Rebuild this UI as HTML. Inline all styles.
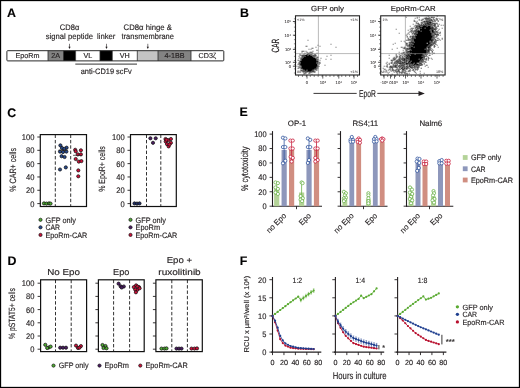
<!DOCTYPE html>
<html><head><meta charset="utf-8"><style>
html,body{margin:0;padding:0;background:#fff;}
svg{display:block;will-change:transform;}
text{font-family:"Liberation Sans", sans-serif;text-rendering:geometricPrecision;stroke:#231f20;stroke-width:0.15px;}
</style></head><body>
<svg width="520" height="388" viewBox="0 0 520 388" font-family='"Liberation Sans", sans-serif' fill="#231f20">
<rect x="0" y="0" width="520" height="388" fill="#fff"/>
<text x="7" y="17" font-size="12.4" font-weight="bold" fill="#000">A</text>
<text x="240" y="16.8" font-size="12.4" font-weight="bold" fill="#000">B</text>
<text x="7.2" y="116.7" font-size="12.4" font-weight="bold" fill="#000">C</text>
<text x="7.6" y="264.6" font-size="12.4" font-weight="bold" fill="#000">D</text>
<text x="239.6" y="116.2" font-size="12.4" font-weight="bold" fill="#000">E</text>
<text x="239.8" y="264.7" font-size="12.4" font-weight="bold" fill="#000">F</text>
<rect x="6.9" y="50.7" width="41.1" height="10.2" fill="#ffffff"/>
<text x="27.45" y="58.1" font-size="7.2" text-anchor="middle">EpoRm</text>
<rect x="48" y="50.7" width="15.5" height="10.2" fill="#838383"/>
<text x="55.75" y="58.1" font-size="7.2" text-anchor="middle">2A</text>
<rect x="63.5" y="50.7" width="12.1" height="10.2" fill="#000000"/>
<rect x="75.6" y="50.7" width="24.4" height="10.2" fill="#ffffff"/>
<text x="87.8" y="58.1" font-size="7.2" text-anchor="middle">VL</text>
<rect x="100" y="50.7" width="12.3" height="10.2" fill="#000000"/>
<rect x="112.3" y="50.7" width="25" height="10.2" fill="#ffffff"/>
<text x="124.8" y="58.1" font-size="7.2" text-anchor="middle">VH</text>
<rect x="137.3" y="50.7" width="20.7" height="10.2" fill="#c4c4c4"/>
<rect x="158" y="50.7" width="33" height="10.2" fill="#838383"/>
<text x="174.5" y="58.1" font-size="7.2" text-anchor="middle">4-1BB</text>
<rect x="191" y="50.7" width="32.8" height="10.2" fill="#ffffff"/>
<text x="207.4" y="58.1" font-size="7.2" text-anchor="middle">CD3ζ</text>
<rect x="6.9" y="50.7" width="216.9" height="10.2" rx="0.8" fill="none" stroke="#2a2a2a" stroke-width="1"/>
<line x1="48" y1="50.7" x2="48" y2="60.9" stroke="#2a2a2a" stroke-width="0.8"/>
<line x1="63.5" y1="50.7" x2="63.5" y2="60.9" stroke="#2a2a2a" stroke-width="0.8"/>
<line x1="75.6" y1="50.7" x2="75.6" y2="60.9" stroke="#2a2a2a" stroke-width="0.8"/>
<line x1="100" y1="50.7" x2="100" y2="60.9" stroke="#2a2a2a" stroke-width="0.8"/>
<line x1="112.3" y1="50.7" x2="112.3" y2="60.9" stroke="#2a2a2a" stroke-width="0.8"/>
<line x1="137.3" y1="50.7" x2="137.3" y2="60.9" stroke="#2a2a2a" stroke-width="0.8"/>
<line x1="158" y1="50.7" x2="158" y2="60.9" stroke="#2a2a2a" stroke-width="0.8"/>
<line x1="191" y1="50.7" x2="191" y2="60.9" stroke="#2a2a2a" stroke-width="0.8"/>
<line x1="75.3" y1="64.1" x2="137" y2="64.1" stroke="#333" stroke-width="1"/>
<text x="106.2" y="73.5" font-size="7.9" text-anchor="middle" textLength="51" lengthAdjust="spacingAndGlyphs">anti-CD19 scFv</text>
<text x="69.6" y="29.9" font-size="8" text-anchor="middle" textLength="19.5" lengthAdjust="spacingAndGlyphs">CD8α</text>
<text x="69.4" y="38.6" font-size="8" text-anchor="middle" textLength="47.2" lengthAdjust="spacingAndGlyphs">signal peptide</text>
<text x="106.2" y="38.6" font-size="8" text-anchor="middle" textLength="18.4" lengthAdjust="spacingAndGlyphs">linker</text>
<text x="147.7" y="29.9" font-size="8" text-anchor="middle" textLength="48.3" lengthAdjust="spacingAndGlyphs">CD8α hinge &amp;</text>
<text x="147.7" y="38.6" font-size="8" text-anchor="middle" textLength="52.3" lengthAdjust="spacingAndGlyphs">transmembrane</text>
<line x1="69.5" y1="43.8" x2="69.5" y2="47.5" stroke="#231f20" stroke-width="0.6"/>
<path d="M68.4 46.8 L70.6 46.8 L69.5 49 Z" fill="#231f20"/>
<line x1="106.5" y1="43.8" x2="106.5" y2="47.5" stroke="#231f20" stroke-width="0.6"/>
<path d="M105.4 46.8 L107.6 46.8 L106.5 49 Z" fill="#231f20"/>
<line x1="147.8" y1="43.8" x2="147.8" y2="47.5" stroke="#231f20" stroke-width="0.6"/>
<path d="M146.7 46.8 L148.9 46.8 L147.8 49 Z" fill="#231f20"/>
<path fill="rgb(106,106,106)" d="M307.5 39.8h1v1h-1zM330.5 43.8h1v1h-1zM317.5 44.8h1v1h-1zM305.5 45.8h2v1h-2zM319.5 45.8h1v1h-1zM315.5 46.8h1v1h-1zM335.5 46.8h1v1h-1zM311.5 47.8h2v1h-2zM308.5 48.8h1v1h-1zM310.5 48.8h1v1h-1zM301.5 50.8h3v1h-3zM305.5 50.8h1v1h-1zM312.5 50.8h1v1h-1zM301.5 51.8h1v1h-1zM309.5 51.8h1v1h-1zM311.5 51.8h1v1h-1zM309.5 52.8h1v1h-1zM312.5 52.8h1v1h-1zM316.5 52.8h1v1h-1zM299.5 53.8h1v1h-1zM303.5 53.8h1v1h-1zM308.5 53.8h4v1h-4zM299.5 54.8h2v1h-2zM311.5 54.8h1v1h-1zM330.5 54.8h1v1h-1zM298.5 55.8h1v1h-1zM312.5 55.8h1v1h-1zM314.5 55.8h2v1h-2zM326.5 55.8h1v1h-1zM299.5 56.8h1v1h-1zM302.5 56.8h1v1h-1zM314.5 56.8h1v1h-1zM298.5 57.8h1v1h-1zM316.5 57.8h1v1h-1zM320.5 57.8h1v1h-1zM316.5 58.8h1v1h-1zM325.5 58.8h1v1h-1zM330.5 58.8h1v1h-1zM297.5 59.8h2v1h-2zM316.5 59.8h2v1h-2zM319.5 59.8h1v1h-1zM295.5 61.8h1v1h-1zM298.5 61.8h2v1h-2zM318.5 61.8h2v1h-2zM318.5 62.8h1v1h-1zM297.5 63.8h2v1h-2zM317.5 64.8h1v1h-1zM324.5 64.8h1v1h-1zM296.5 65.8h1v1h-1zM298.5 66.8h2v1h-2zM317.5 66.8h1v1h-1zM297.5 67.8h2v1h-2zM317.5 67.8h1v1h-1zM300.5 68.8h1v1h-1zM316.5 68.8h1v1h-1zM303.5 69.8h1v1h-1zM313.5 69.8h1v1h-1zM315.5 69.8h2v1h-2zM314.5 70.8h1v1h-1zM304.5 71.8h2v1h-2zM308.5 71.8h1v1h-1zM310.5 71.8h1v1h-1zM314.5 71.8h1v1h-1zM303.5 72.8h3v1h-3zM309.5 72.8h1v1h-1zM303.5 73.8h1v1h-1zM311.5 73.8h1v1h-1z"/>
<path fill="rgb(42,42,42)" d="M316.5 49.8h1v1h-1zM306.5 51.8h1v1h-1zM304.5 52.8h1v1h-1zM307.5 52.8h2v1h-2zM311.5 52.8h1v1h-1zM314.5 53.8h1v1h-1zM301.5 54.8h1v1h-1zM303.5 54.8h1v1h-1zM307.5 54.8h1v1h-1zM312.5 54.8h1v1h-1zM314.5 54.8h2v1h-2zM301.5 55.8h2v1h-2zM304.5 55.8h1v1h-1zM301.5 57.8h1v1h-1zM315.5 57.8h1v1h-1zM316.5 61.8h1v1h-1zM298.5 62.8h1v1h-1zM316.5 62.8h2v1h-2zM319.5 62.8h1v1h-1zM298.5 65.8h1v1h-1zM300.5 65.8h1v1h-1zM317.5 65.8h2v1h-2zM316.5 66.8h1v1h-1zM316.5 67.8h1v1h-1zM314.5 68.8h2v1h-2zM300.5 69.8h2v1h-2zM302.5 70.8h1v1h-1zM305.5 70.8h1v1h-1zM306.5 71.8h1v1h-1zM311.5 71.8h1v1h-1zM313.5 71.8h1v1h-1zM308.5 72.8h1v1h-1z"/>
<path fill="rgb(21,21,21)" d="M310.5 51.8h1v1h-1zM306.5 53.8h2v1h-2zM310.5 54.8h1v1h-1zM313.5 54.8h1v1h-1zM313.5 55.8h1v1h-1zM313.5 56.8h1v1h-1zM316.5 56.8h1v1h-1zM300.5 57.8h1v1h-1zM300.5 58.8h1v1h-1zM317.5 58.8h1v1h-1zM300.5 59.8h1v1h-1zM299.5 62.8h1v1h-1zM318.5 63.8h1v1h-1zM299.5 64.8h1v1h-1zM300.5 66.8h1v1h-1zM302.5 69.8h1v1h-1zM306.5 69.8h1v1h-1zM312.5 69.8h1v1h-1zM303.5 70.8h1v1h-1zM311.5 70.8h3v1h-3zM309.5 71.8h1v1h-1z"/>
<path fill="rgb(0,0,0)" d="M302.5 54.8h1v1h-1zM304.5 54.8h3v1h-3zM308.5 54.8h2v1h-2zM303.5 55.8h1v1h-1zM305.5 55.8h7v1h-7zM301.5 56.8h1v1h-1zM303.5 56.8h10v1h-10zM317.5 56.8h1v1h-1zM302.5 57.8h13v1h-13zM301.5 58.8h15v1h-15zM301.5 59.8h15v1h-15zM299.5 60.8h19v1h-19zM300.5 61.8h16v1h-16zM317.5 61.8h1v1h-1zM300.5 62.8h16v1h-16zM299.5 63.8h18v1h-18zM300.5 64.8h17v1h-17zM301.5 65.8h16v1h-16zM301.5 66.8h15v1h-15zM300.5 67.8h16v1h-16zM302.5 68.8h12v1h-12zM304.5 69.8h2v1h-2zM307.5 69.8h5v1h-5zM304.5 70.8h1v1h-1zM306.5 70.8h5v1h-5z"/>
<path fill="rgb(106,106,106)" d="M427.7 15.8h1v1h-1zM436.7 15.8h1v1h-1zM405.7 16.8h1v1h-1zM416.7 16.8h1v1h-1zM418.7 16.8h1v1h-1zM425.7 16.8h1v1h-1zM428.7 16.8h1v1h-1zM432.7 16.8h1v1h-1zM414.7 17.8h1v1h-1zM416.7 17.8h1v1h-1zM423.7 17.8h1v1h-1zM429.7 17.8h1v1h-1zM432.7 17.8h1v1h-1zM435.7 17.8h1v1h-1zM418.7 18.8h1v1h-1zM421.7 18.8h1v1h-1zM424.7 18.8h6v1h-6zM432.7 18.8h2v1h-2zM435.7 18.8h2v1h-2zM413.7 19.8h1v1h-1zM418.7 19.8h1v1h-1zM421.7 19.8h1v1h-1zM425.7 19.8h3v1h-3zM433.7 19.8h2v1h-2zM436.7 19.8h1v1h-1zM414.7 20.8h1v1h-1zM416.7 20.8h1v1h-1zM422.7 20.8h1v1h-1zM432.7 20.8h2v1h-2zM415.7 21.8h1v1h-1zM420.7 21.8h3v1h-3zM424.7 21.8h2v1h-2zM431.7 21.8h1v1h-1zM415.7 22.8h2v1h-2zM420.7 22.8h1v1h-1zM423.7 22.8h1v1h-1zM430.7 22.8h1v1h-1zM434.7 22.8h1v1h-1zM436.7 22.8h1v1h-1zM412.7 23.8h1v1h-1zM417.7 23.8h1v1h-1zM423.7 23.8h1v1h-1zM436.7 23.8h1v1h-1zM438.7 23.8h1v1h-1zM414.7 24.8h4v1h-4zM431.7 24.8h1v1h-1zM437.7 24.8h1v1h-1zM440.7 24.8h1v1h-1zM442.7 24.8h1v1h-1zM409.7 25.8h1v1h-1zM413.7 25.8h1v1h-1zM420.7 25.8h1v1h-1zM430.7 25.8h1v1h-1zM436.7 25.8h1v1h-1zM414.7 26.8h1v1h-1zM417.7 26.8h1v1h-1zM434.7 26.8h1v1h-1zM410.7 27.8h2v1h-2zM433.7 27.8h1v1h-1zM435.7 27.8h2v1h-2zM441.7 27.8h1v1h-1zM395.7 28.8h1v1h-1zM409.7 28.8h1v1h-1zM411.7 28.8h1v1h-1zM417.7 28.8h1v1h-1zM438.7 28.8h1v1h-1zM407.7 29.8h1v1h-1zM410.7 29.8h2v1h-2zM413.7 29.8h1v1h-1zM416.7 29.8h1v1h-1zM418.7 29.8h1v1h-1zM437.7 29.8h1v1h-1zM409.7 30.8h4v1h-4zM433.7 30.8h2v1h-2zM436.7 30.8h1v1h-1zM408.7 31.8h1v1h-1zM430.7 31.8h1v1h-1zM434.7 31.8h1v1h-1zM436.7 31.8h2v1h-2zM398.7 32.8h1v1h-1zM407.7 32.8h1v1h-1zM411.7 32.8h2v1h-2zM432.7 32.8h1v1h-1zM436.7 32.8h1v1h-1zM438.7 32.8h2v1h-2zM406.7 33.8h1v1h-1zM408.7 33.8h1v1h-1zM411.7 33.8h1v1h-1zM432.7 33.8h1v1h-1zM405.7 34.8h1v1h-1zM412.7 34.8h1v1h-1zM435.7 34.8h2v1h-2zM439.7 34.8h1v1h-1zM410.7 35.8h1v1h-1zM433.7 35.8h1v1h-1zM436.7 35.8h1v1h-1zM406.7 36.8h1v1h-1zM413.7 36.8h1v1h-1zM433.7 36.8h3v1h-3zM410.7 37.8h1v1h-1zM432.7 37.8h1v1h-1zM436.7 37.8h2v1h-2zM441.7 37.8h1v1h-1zM407.7 38.8h4v1h-4zM433.7 38.8h1v1h-1zM438.7 38.8h1v1h-1zM441.7 38.8h1v1h-1zM405.7 39.8h2v1h-2zM408.7 39.8h3v1h-3zM435.7 39.8h1v1h-1zM437.7 39.8h1v1h-1zM439.7 39.8h1v1h-1zM400.7 40.8h1v1h-1zM403.7 40.8h1v1h-1zM412.7 40.8h1v1h-1zM429.7 40.8h1v1h-1zM434.7 40.8h2v1h-2zM404.7 41.8h1v1h-1zM432.7 41.8h1v1h-1zM434.7 41.8h2v1h-2zM394.7 42.8h1v1h-1zM408.7 42.8h1v1h-1zM410.7 42.8h1v1h-1zM430.7 42.8h2v1h-2zM392.7 43.8h1v1h-1zM405.7 43.8h2v1h-2zM434.7 43.8h2v1h-2zM405.7 44.8h1v1h-1zM407.7 44.8h1v1h-1zM436.7 44.8h1v1h-1zM406.7 45.8h2v1h-2zM430.7 45.8h1v1h-1zM434.7 45.8h1v1h-1zM400.7 46.8h2v1h-2zM403.7 46.8h2v1h-2zM408.7 46.8h1v1h-1zM437.7 46.8h1v1h-1zM396.7 47.8h1v1h-1zM402.7 47.8h1v1h-1zM405.7 47.8h1v1h-1zM407.7 47.8h1v1h-1zM429.7 47.8h2v1h-2zM391.7 48.8h1v1h-1zM404.7 48.8h2v1h-2zM409.7 48.8h1v1h-1zM426.7 48.8h1v1h-1zM431.7 48.8h1v1h-1zM402.7 49.8h1v1h-1zM406.7 49.8h1v1h-1zM429.7 49.8h1v1h-1zM432.7 49.8h1v1h-1zM405.7 50.8h1v1h-1zM398.7 51.8h1v1h-1zM402.7 51.8h1v1h-1zM408.7 51.8h1v1h-1zM428.7 51.8h1v1h-1zM400.7 52.8h2v1h-2zM403.7 52.8h1v1h-1zM405.7 52.8h1v1h-1zM426.7 52.8h4v1h-4zM432.7 52.8h1v1h-1zM395.7 53.8h1v1h-1zM398.7 53.8h1v1h-1zM401.7 53.8h1v1h-1zM405.7 53.8h1v1h-1zM423.7 53.8h1v1h-1zM425.7 53.8h1v1h-1zM431.7 53.8h1v1h-1zM388.7 54.8h1v1h-1zM395.7 54.8h1v1h-1zM399.7 54.8h2v1h-2zM402.7 54.8h1v1h-1zM409.7 54.8h1v1h-1zM429.7 54.8h1v1h-1zM395.7 55.8h1v1h-1zM398.7 55.8h2v1h-2zM404.7 55.8h1v1h-1zM425.7 55.8h2v1h-2zM393.7 56.8h1v1h-1zM395.7 56.8h2v1h-2zM398.7 56.8h1v1h-1zM401.7 56.8h2v1h-2zM404.7 56.8h1v1h-1zM388.7 57.8h1v1h-1zM392.7 57.8h4v1h-4zM398.7 57.8h3v1h-3zM422.7 57.8h1v1h-1zM427.7 57.8h2v1h-2zM430.7 57.8h1v1h-1zM392.7 58.8h1v1h-1zM397.7 58.8h1v1h-1zM399.7 58.8h1v1h-1zM406.7 58.8h1v1h-1zM423.7 58.8h2v1h-2zM427.7 58.8h1v1h-1zM431.7 58.8h1v1h-1zM392.7 59.8h2v1h-2zM395.7 59.8h1v1h-1zM397.7 59.8h1v1h-1zM407.7 59.8h1v1h-1zM425.7 59.8h1v1h-1zM427.7 59.8h1v1h-1zM391.7 60.8h1v1h-1zM394.7 60.8h1v1h-1zM400.7 60.8h2v1h-2zM406.7 60.8h2v1h-2zM422.7 60.8h3v1h-3zM386.7 61.8h1v1h-1zM390.7 61.8h2v1h-2zM393.7 61.8h3v1h-3zM398.7 61.8h1v1h-1zM400.7 61.8h1v1h-1zM419.7 61.8h2v1h-2zM422.7 61.8h1v1h-1zM424.7 61.8h2v1h-2zM385.7 62.8h1v1h-1zM388.7 62.8h1v1h-1zM391.7 62.8h1v1h-1zM394.7 62.8h1v1h-1zM396.7 62.8h1v1h-1zM403.7 62.8h1v1h-1zM416.7 62.8h1v1h-1zM423.7 62.8h1v1h-1zM386.7 63.8h1v1h-1zM394.7 63.8h1v1h-1zM399.7 63.8h2v1h-2zM402.7 63.8h1v1h-1zM407.7 63.8h1v1h-1zM410.7 63.8h1v1h-1zM412.7 63.8h1v1h-1zM419.7 63.8h1v1h-1zM423.7 63.8h1v1h-1zM386.7 64.8h1v1h-1zM392.7 64.8h2v1h-2zM399.7 64.8h1v1h-1zM414.7 64.8h1v1h-1zM421.7 64.8h1v1h-1zM425.7 64.8h2v1h-2zM383.7 65.8h1v1h-1zM385.7 65.8h1v1h-1zM391.7 65.8h2v1h-2zM398.7 65.8h1v1h-1zM401.7 65.8h1v1h-1zM407.7 65.8h1v1h-1zM410.7 65.8h1v1h-1zM415.7 65.8h2v1h-2zM418.7 65.8h1v1h-1zM424.7 65.8h1v1h-1zM386.7 66.8h1v1h-1zM388.7 66.8h1v1h-1zM392.7 66.8h2v1h-2zM402.7 66.8h1v1h-1zM404.7 66.8h2v1h-2zM414.7 66.8h2v1h-2zM418.7 66.8h1v1h-1zM427.7 66.8h1v1h-1zM382.7 67.8h1v1h-1zM389.7 67.8h1v1h-1zM396.7 67.8h1v1h-1zM398.7 67.8h1v1h-1zM402.7 67.8h1v1h-1zM407.7 67.8h1v1h-1zM410.7 67.8h1v1h-1zM413.7 67.8h2v1h-2zM417.7 67.8h1v1h-1zM383.7 68.8h2v1h-2zM388.7 68.8h2v1h-2zM392.7 68.8h1v1h-1zM395.7 68.8h4v1h-4zM406.7 68.8h1v1h-1zM409.7 68.8h1v1h-1zM415.7 68.8h3v1h-3zM385.7 69.8h1v1h-1zM387.7 69.8h1v1h-1zM389.7 69.8h1v1h-1zM392.7 69.8h2v1h-2zM395.7 69.8h1v1h-1zM398.7 69.8h1v1h-1zM401.7 69.8h1v1h-1zM403.7 69.8h2v1h-2zM409.7 69.8h1v1h-1zM411.7 69.8h1v1h-1zM414.7 69.8h1v1h-1zM416.7 69.8h1v1h-1zM380.7 70.8h1v1h-1zM390.7 70.8h1v1h-1zM392.7 70.8h1v1h-1zM394.7 70.8h2v1h-2zM402.7 70.8h1v1h-1zM404.7 70.8h2v1h-2zM408.7 70.8h2v1h-2zM419.7 70.8h1v1h-1zM381.7 71.8h1v1h-1zM388.7 71.8h1v1h-1zM393.7 71.8h1v1h-1zM395.7 71.8h2v1h-2zM399.7 71.8h4v1h-4zM404.7 71.8h1v1h-1zM387.7 72.8h1v1h-1zM396.7 72.8h1v1h-1zM398.7 72.8h1v1h-1zM400.7 72.8h2v1h-2zM403.7 72.8h4v1h-4zM408.7 72.8h1v1h-1zM415.7 72.8h1v1h-1zM419.7 72.8h1v1h-1zM423.7 72.8h1v1h-1zM391.7 73.8h1v1h-1zM396.7 73.8h1v1h-1zM406.7 73.8h1v1h-1z"/>
<path fill="rgb(42,42,42)" d="M430.7 16.8h2v1h-2zM433.7 16.8h1v1h-1zM424.7 17.8h5v1h-5zM422.7 18.8h1v1h-1zM420.7 19.8h1v1h-1zM429.7 19.8h1v1h-1zM413.7 20.8h1v1h-1zM423.7 20.8h2v1h-2zM427.7 20.8h2v1h-2zM431.7 20.8h1v1h-1zM434.7 20.8h1v1h-1zM437.7 20.8h1v1h-1zM423.7 21.8h1v1h-1zM424.7 22.8h1v1h-1zM428.7 22.8h1v1h-1zM431.7 22.8h1v1h-1zM435.7 22.8h1v1h-1zM420.7 23.8h1v1h-1zM424.7 23.8h2v1h-2zM430.7 23.8h1v1h-1zM433.7 23.8h1v1h-1zM418.7 24.8h1v1h-1zM420.7 24.8h2v1h-2zM424.7 24.8h1v1h-1zM426.7 24.8h1v1h-1zM428.7 24.8h1v1h-1zM430.7 24.8h1v1h-1zM432.7 24.8h1v1h-1zM415.7 25.8h1v1h-1zM421.7 25.8h1v1h-1zM431.7 25.8h1v1h-1zM434.7 25.8h1v1h-1zM415.7 26.8h2v1h-2zM432.7 26.8h1v1h-1zM412.7 27.8h1v1h-1zM414.7 27.8h1v1h-1zM416.7 27.8h1v1h-1zM420.7 27.8h1v1h-1zM434.7 27.8h1v1h-1zM415.7 28.8h2v1h-2zM435.7 28.8h1v1h-1zM414.7 29.8h1v1h-1zM430.7 29.8h1v1h-1zM434.7 29.8h1v1h-1zM414.7 30.8h1v1h-1zM430.7 30.8h1v1h-1zM435.7 30.8h1v1h-1zM410.7 31.8h1v1h-1zM414.7 31.8h1v1h-1zM435.7 31.8h1v1h-1zM439.7 31.8h1v1h-1zM416.7 32.8h1v1h-1zM434.7 32.8h1v1h-1zM413.7 33.8h2v1h-2zM431.7 33.8h1v1h-1zM433.7 33.8h1v1h-1zM436.7 33.8h2v1h-2zM415.7 34.8h1v1h-1zM437.7 34.8h1v1h-1zM406.7 35.8h1v1h-1zM409.7 35.8h1v1h-1zM411.7 35.8h3v1h-3zM432.7 35.8h1v1h-1zM435.7 35.8h1v1h-1zM409.7 36.8h1v1h-1zM407.7 37.8h1v1h-1zM431.7 37.8h1v1h-1zM412.7 38.8h1v1h-1zM434.7 38.8h1v1h-1zM407.7 39.8h1v1h-1zM412.7 39.8h1v1h-1zM434.7 39.8h1v1h-1zM436.7 39.8h1v1h-1zM411.7 40.8h1v1h-1zM409.7 41.8h1v1h-1zM413.7 41.8h1v1h-1zM433.7 41.8h1v1h-1zM405.7 42.8h2v1h-2zM409.7 42.8h1v1h-1zM433.7 42.8h2v1h-2zM408.7 43.8h2v1h-2zM412.7 43.8h1v1h-1zM429.7 43.8h1v1h-1zM431.7 43.8h1v1h-1zM406.7 44.8h1v1h-1zM433.7 44.8h1v1h-1zM409.7 45.8h3v1h-3zM433.7 45.8h1v1h-1zM433.7 46.8h1v1h-1zM403.7 47.8h2v1h-2zM428.7 47.8h1v1h-1zM427.7 48.8h1v1h-1zM429.7 48.8h1v1h-1zM426.7 49.8h3v1h-3zM430.7 49.8h1v1h-1zM406.7 50.8h1v1h-1zM427.7 50.8h2v1h-2zM431.7 50.8h1v1h-1zM403.7 51.8h1v1h-1zM405.7 51.8h1v1h-1zM407.7 51.8h1v1h-1zM426.7 51.8h2v1h-2zM431.7 51.8h1v1h-1zM402.7 52.8h1v1h-1zM406.7 52.8h2v1h-2zM433.7 52.8h1v1h-1zM404.7 53.8h1v1h-1zM406.7 53.8h1v1h-1zM422.7 53.8h1v1h-1zM426.7 53.8h1v1h-1zM404.7 54.8h1v1h-1zM423.7 54.8h1v1h-1zM396.7 55.8h1v1h-1zM403.7 55.8h1v1h-1zM405.7 55.8h1v1h-1zM422.7 55.8h1v1h-1zM427.7 56.8h1v1h-1zM402.7 57.8h1v1h-1zM393.7 58.8h2v1h-2zM400.7 58.8h1v1h-1zM402.7 58.8h1v1h-1zM421.7 58.8h2v1h-2zM390.7 59.8h2v1h-2zM398.7 59.8h1v1h-1zM401.7 59.8h1v1h-1zM420.7 59.8h2v1h-2zM395.7 60.8h2v1h-2zM398.7 60.8h1v1h-1zM403.7 60.8h1v1h-1zM410.7 60.8h1v1h-1zM419.7 60.8h1v1h-1zM401.7 61.8h2v1h-2zM409.7 61.8h1v1h-1zM421.7 61.8h1v1h-1zM397.7 62.8h1v1h-1zM401.7 62.8h1v1h-1zM404.7 62.8h1v1h-1zM413.7 62.8h1v1h-1zM418.7 62.8h1v1h-1zM388.7 63.8h1v1h-1zM392.7 63.8h1v1h-1zM401.7 63.8h1v1h-1zM404.7 63.8h1v1h-1zM418.7 63.8h1v1h-1zM420.7 63.8h1v1h-1zM394.7 64.8h1v1h-1zM396.7 64.8h1v1h-1zM400.7 64.8h1v1h-1zM403.7 64.8h1v1h-1zM406.7 64.8h1v1h-1zM409.7 64.8h1v1h-1zM417.7 64.8h1v1h-1zM419.7 64.8h2v1h-2zM386.7 65.8h1v1h-1zM394.7 65.8h2v1h-2zM400.7 65.8h1v1h-1zM402.7 65.8h1v1h-1zM411.7 65.8h1v1h-1zM413.7 65.8h2v1h-2zM417.7 65.8h1v1h-1zM390.7 66.8h2v1h-2zM394.7 66.8h1v1h-1zM396.7 66.8h1v1h-1zM399.7 66.8h1v1h-1zM406.7 66.8h2v1h-2zM412.7 66.8h1v1h-1zM391.7 67.8h1v1h-1zM403.7 67.8h2v1h-2zM408.7 67.8h1v1h-1zM411.7 67.8h1v1h-1zM416.7 67.8h1v1h-1zM420.7 67.8h1v1h-1zM391.7 68.8h1v1h-1zM401.7 68.8h3v1h-3zM405.7 68.8h1v1h-1zM412.7 68.8h1v1h-1zM414.7 68.8h1v1h-1zM394.7 69.8h1v1h-1zM402.7 69.8h1v1h-1zM408.7 69.8h1v1h-1zM412.7 69.8h1v1h-1zM396.7 70.8h1v1h-1zM398.7 70.8h1v1h-1zM401.7 70.8h1v1h-1zM407.7 70.8h1v1h-1zM413.7 70.8h1v1h-1zM398.7 71.8h1v1h-1zM403.7 71.8h1v1h-1zM414.7 71.8h1v1h-1z"/>
<path fill="rgb(21,21,21)" d="M428.7 19.8h1v1h-1zM430.7 19.8h2v1h-2zM425.7 20.8h2v1h-2zM429.7 20.8h1v1h-1zM426.7 21.8h2v1h-2zM421.7 22.8h1v1h-1zM425.7 22.8h1v1h-1zM433.7 22.8h1v1h-1zM418.7 23.8h1v1h-1zM426.7 23.8h1v1h-1zM431.7 23.8h1v1h-1zM422.7 24.8h1v1h-1zM427.7 24.8h1v1h-1zM429.7 24.8h1v1h-1zM434.7 24.8h1v1h-1zM416.7 25.8h1v1h-1zM418.7 25.8h2v1h-2zM426.7 25.8h1v1h-1zM433.7 25.8h1v1h-1zM437.7 25.8h1v1h-1zM418.7 26.8h1v1h-1zM430.7 26.8h1v1h-1zM435.7 26.8h1v1h-1zM418.7 27.8h1v1h-1zM424.7 27.8h1v1h-1zM430.7 28.8h3v1h-3zM429.7 29.8h1v1h-1zM413.7 30.8h1v1h-1zM415.7 30.8h1v1h-1zM420.7 30.8h1v1h-1zM412.7 31.8h1v1h-1zM416.7 31.8h1v1h-1zM414.7 32.8h2v1h-2zM431.7 32.8h1v1h-1zM433.7 32.8h1v1h-1zM414.7 34.8h1v1h-1zM431.7 34.8h1v1h-1zM433.7 34.8h1v1h-1zM411.7 36.8h1v1h-1zM414.7 36.8h1v1h-1zM432.7 36.8h1v1h-1zM412.7 37.8h3v1h-3zM433.7 37.8h1v1h-1zM431.7 38.8h2v1h-2zM411.7 39.8h1v1h-1zM410.7 40.8h1v1h-1zM431.7 40.8h1v1h-1zM433.7 40.8h1v1h-1zM408.7 41.8h1v1h-1zM429.7 41.8h1v1h-1zM431.7 41.8h1v1h-1zM411.7 42.8h1v1h-1zM410.7 43.8h2v1h-2zM432.7 43.8h1v1h-1zM409.7 44.8h1v1h-1zM428.7 44.8h1v1h-1zM431.7 44.8h1v1h-1zM427.7 45.8h1v1h-1zM429.7 45.8h1v1h-1zM409.7 46.8h1v1h-1zM413.7 46.8h1v1h-1zM426.7 46.8h1v1h-1zM406.7 47.8h1v1h-1zM406.7 48.8h1v1h-1zM408.7 48.8h1v1h-1zM424.7 48.8h1v1h-1zM405.7 49.8h1v1h-1zM410.7 49.8h1v1h-1zM426.7 50.8h1v1h-1zM406.7 51.8h1v1h-1zM410.7 52.8h1v1h-1zM403.7 53.8h1v1h-1zM408.7 53.8h1v1h-1zM414.7 53.8h1v1h-1zM405.7 54.8h2v1h-2zM425.7 54.8h1v1h-1zM428.7 54.8h1v1h-1zM401.7 55.8h1v1h-1zM406.7 55.8h2v1h-2zM421.7 55.8h1v1h-1zM424.7 55.8h1v1h-1zM399.7 56.8h1v1h-1zM406.7 56.8h1v1h-1zM408.7 56.8h1v1h-1zM423.7 56.8h1v1h-1zM401.7 57.8h1v1h-1zM404.7 57.8h1v1h-1zM408.7 57.8h1v1h-1zM423.7 57.8h1v1h-1zM425.7 57.8h1v1h-1zM403.7 58.8h3v1h-3zM408.7 58.8h1v1h-1zM418.7 58.8h1v1h-1zM396.7 59.8h1v1h-1zM399.7 59.8h1v1h-1zM402.7 59.8h3v1h-3zM406.7 59.8h1v1h-1zM408.7 59.8h1v1h-1zM399.7 60.8h1v1h-1zM404.7 60.8h1v1h-1zM421.7 60.8h1v1h-1zM397.7 61.8h1v1h-1zM399.7 61.8h1v1h-1zM390.7 62.8h1v1h-1zM395.7 62.8h1v1h-1zM405.7 62.8h4v1h-4zM419.7 62.8h2v1h-2zM396.7 63.8h1v1h-1zM405.7 63.8h2v1h-2zM409.7 63.8h1v1h-1zM421.7 63.8h1v1h-1zM395.7 64.8h1v1h-1zM402.7 64.8h1v1h-1zM408.7 64.8h1v1h-1zM411.7 64.8h1v1h-1zM415.7 64.8h1v1h-1zM390.7 65.8h1v1h-1zM393.7 65.8h1v1h-1zM399.7 65.8h1v1h-1zM405.7 65.8h2v1h-2zM408.7 65.8h2v1h-2zM389.7 66.8h1v1h-1zM398.7 66.8h1v1h-1zM403.7 66.8h1v1h-1zM409.7 66.8h3v1h-3zM413.7 66.8h1v1h-1zM417.7 66.8h1v1h-1zM405.7 67.8h2v1h-2zM399.7 68.8h1v1h-1zM391.7 69.8h1v1h-1zM397.7 69.8h1v1h-1zM397.7 70.8h1v1h-1z"/>
<path fill="rgb(0,0,0)" d="M430.7 18.8h1v1h-1zM428.7 21.8h3v1h-3zM417.7 22.8h1v1h-1zM426.7 22.8h2v1h-2zM429.7 22.8h1v1h-1zM432.7 22.8h1v1h-1zM422.7 23.8h1v1h-1zM427.7 23.8h3v1h-3zM434.7 23.8h1v1h-1zM419.7 24.8h1v1h-1zM423.7 24.8h1v1h-1zM425.7 24.8h1v1h-1zM433.7 24.8h1v1h-1zM417.7 25.8h1v1h-1zM422.7 25.8h4v1h-4zM427.7 25.8h3v1h-3zM419.7 26.8h11v1h-11zM431.7 26.8h1v1h-1zM417.7 27.8h1v1h-1zM419.7 27.8h1v1h-1zM421.7 27.8h3v1h-3zM425.7 27.8h8v1h-8zM419.7 28.8h11v1h-11zM433.7 28.8h2v1h-2zM415.7 29.8h1v1h-1zM417.7 29.8h1v1h-1zM419.7 29.8h10v1h-10zM431.7 29.8h2v1h-2zM416.7 30.8h4v1h-4zM421.7 30.8h9v1h-9zM431.7 30.8h2v1h-2zM415.7 31.8h1v1h-1zM417.7 31.8h13v1h-13zM431.7 31.8h3v1h-3zM413.7 32.8h1v1h-1zM417.7 32.8h14v1h-14zM415.7 33.8h16v1h-16zM434.7 33.8h2v1h-2zM416.7 34.8h15v1h-15zM432.7 34.8h1v1h-1zM414.7 35.8h18v1h-18zM412.7 36.8h1v1h-1zM415.7 36.8h17v1h-17zM411.7 37.8h1v1h-1zM415.7 37.8h16v1h-16zM411.7 38.8h1v1h-1zM413.7 38.8h18v1h-18zM413.7 39.8h20v1h-20zM413.7 40.8h16v1h-16zM430.7 40.8h1v1h-1zM410.7 41.8h3v1h-3zM414.7 41.8h15v1h-15zM430.7 41.8h1v1h-1zM412.7 42.8h14v1h-14zM427.7 42.8h3v1h-3zM432.7 42.8h1v1h-1zM413.7 43.8h16v1h-16zM430.7 43.8h1v1h-1zM408.7 44.8h1v1h-1zM410.7 44.8h18v1h-18zM429.7 44.8h2v1h-2zM408.7 45.8h1v1h-1zM412.7 45.8h15v1h-15zM428.7 45.8h1v1h-1zM410.7 46.8h3v1h-3zM414.7 46.8h12v1h-12zM427.7 46.8h3v1h-3zM408.7 47.8h18v1h-18zM427.7 47.8h1v1h-1zM407.7 48.8h1v1h-1zM410.7 48.8h14v1h-14zM425.7 48.8h1v1h-1zM428.7 48.8h1v1h-1zM409.7 49.8h1v1h-1zM411.7 49.8h15v1h-15zM407.7 50.8h19v1h-19zM409.7 51.8h17v1h-17zM408.7 52.8h2v1h-2zM411.7 52.8h15v1h-15zM407.7 53.8h1v1h-1zM409.7 53.8h5v1h-5zM415.7 53.8h7v1h-7zM424.7 53.8h1v1h-1zM407.7 54.8h2v1h-2zM410.7 54.8h13v1h-13zM408.7 55.8h13v1h-13zM423.7 55.8h1v1h-1zM405.7 56.8h1v1h-1zM407.7 56.8h1v1h-1zM409.7 56.8h14v1h-14zM403.7 57.8h1v1h-1zM405.7 57.8h3v1h-3zM409.7 57.8h13v1h-13zM398.7 58.8h1v1h-1zM401.7 58.8h1v1h-1zM407.7 58.8h1v1h-1zM409.7 58.8h9v1h-9zM419.7 58.8h2v1h-2zM425.7 58.8h1v1h-1zM405.7 59.8h1v1h-1zM409.7 59.8h11v1h-11zM422.7 59.8h1v1h-1zM397.7 60.8h1v1h-1zM405.7 60.8h1v1h-1zM408.7 60.8h2v1h-2zM411.7 60.8h8v1h-8zM420.7 60.8h1v1h-1zM396.7 61.8h1v1h-1zM403.7 61.8h3v1h-3zM407.7 61.8h2v1h-2zM410.7 61.8h9v1h-9zM393.7 62.8h1v1h-1zM398.7 62.8h3v1h-3zM402.7 62.8h1v1h-1zM409.7 62.8h4v1h-4zM414.7 62.8h2v1h-2zM403.7 63.8h1v1h-1zM408.7 63.8h1v1h-1zM411.7 63.8h1v1h-1zM413.7 63.8h5v1h-5zM398.7 64.8h1v1h-1zM401.7 64.8h1v1h-1zM410.7 64.8h1v1h-1zM412.7 64.8h2v1h-2zM416.7 64.8h1v1h-1zM418.7 64.8h1v1h-1zM389.7 65.8h1v1h-1zM397.7 65.8h1v1h-1zM403.7 65.8h1v1h-1zM395.7 66.8h1v1h-1zM401.7 66.8h1v1h-1zM416.7 66.8h1v1h-1zM400.7 67.8h2v1h-2z"/>
<line x1="318.4" y1="15.8" x2="318.4" y2="75" stroke="#8a8a8a" stroke-width="0.6"/>
<line x1="295.5" y1="53.6" x2="359.5" y2="53.6" stroke="#8a8a8a" stroke-width="0.6"/>
<rect x="295.5" y="15.8" width="64" height="59.2" fill="none" stroke="#222" stroke-width="1.1"/>
<line x1="293.9" y1="18.8" x2="295.5" y2="18.8" stroke="#222" stroke-width="0.5"/>
<line x1="293.9" y1="22.97" x2="295.5" y2="22.97" stroke="#222" stroke-width="0.5"/>
<line x1="293.9" y1="27.14" x2="295.5" y2="27.14" stroke="#222" stroke-width="0.5"/>
<line x1="293.9" y1="31.31" x2="295.5" y2="31.31" stroke="#222" stroke-width="0.5"/>
<line x1="293.9" y1="35.48" x2="295.5" y2="35.48" stroke="#222" stroke-width="0.5"/>
<line x1="293.9" y1="39.65" x2="295.5" y2="39.65" stroke="#222" stroke-width="0.5"/>
<line x1="293.9" y1="43.82" x2="295.5" y2="43.82" stroke="#222" stroke-width="0.5"/>
<line x1="293.9" y1="47.98" x2="295.5" y2="47.98" stroke="#222" stroke-width="0.5"/>
<line x1="293.9" y1="52.15" x2="295.5" y2="52.15" stroke="#222" stroke-width="0.5"/>
<line x1="293.9" y1="56.32" x2="295.5" y2="56.32" stroke="#222" stroke-width="0.5"/>
<line x1="293.9" y1="60.49" x2="295.5" y2="60.49" stroke="#222" stroke-width="0.5"/>
<line x1="293.9" y1="64.66" x2="295.5" y2="64.66" stroke="#222" stroke-width="0.5"/>
<line x1="293.9" y1="68.83" x2="295.5" y2="68.83" stroke="#222" stroke-width="0.5"/>
<line x1="293.9" y1="73" x2="295.5" y2="73" stroke="#222" stroke-width="0.5"/>
<line x1="298.5" y1="75" x2="298.5" y2="77" stroke="#222" stroke-width="0.55"/>
<line x1="302.43" y1="75" x2="302.43" y2="77" stroke="#222" stroke-width="0.55"/>
<line x1="306.37" y1="75" x2="306.37" y2="77" stroke="#222" stroke-width="0.55"/>
<line x1="310.3" y1="75" x2="310.3" y2="77" stroke="#222" stroke-width="0.55"/>
<line x1="314.23" y1="75" x2="314.23" y2="77" stroke="#222" stroke-width="0.55"/>
<line x1="318.17" y1="75" x2="318.17" y2="77" stroke="#222" stroke-width="0.55"/>
<line x1="322.1" y1="75" x2="322.1" y2="77" stroke="#222" stroke-width="0.55"/>
<line x1="326.03" y1="75" x2="326.03" y2="77" stroke="#222" stroke-width="0.55"/>
<line x1="329.97" y1="75" x2="329.97" y2="77" stroke="#222" stroke-width="0.55"/>
<line x1="333.9" y1="75" x2="333.9" y2="77" stroke="#222" stroke-width="0.55"/>
<line x1="337.83" y1="75" x2="337.83" y2="77" stroke="#222" stroke-width="0.55"/>
<line x1="341.77" y1="75" x2="341.77" y2="77" stroke="#222" stroke-width="0.55"/>
<line x1="345.7" y1="75" x2="345.7" y2="77" stroke="#222" stroke-width="0.55"/>
<line x1="349.63" y1="75" x2="349.63" y2="77" stroke="#222" stroke-width="0.55"/>
<line x1="353.57" y1="75" x2="353.57" y2="77" stroke="#222" stroke-width="0.55"/>
<line x1="357.5" y1="75" x2="357.5" y2="77" stroke="#222" stroke-width="0.55"/>
<line x1="405.4" y1="15.8" x2="405.4" y2="75" stroke="#8a8a8a" stroke-width="0.6"/>
<line x1="380.7" y1="53.6" x2="445.1" y2="53.6" stroke="#8a8a8a" stroke-width="0.6"/>
<rect x="380.7" y="15.8" width="64.4" height="59.2" fill="none" stroke="#222" stroke-width="1.1"/>
<line x1="379.1" y1="18.8" x2="380.7" y2="18.8" stroke="#222" stroke-width="0.5"/>
<line x1="379.1" y1="22.97" x2="380.7" y2="22.97" stroke="#222" stroke-width="0.5"/>
<line x1="379.1" y1="27.14" x2="380.7" y2="27.14" stroke="#222" stroke-width="0.5"/>
<line x1="379.1" y1="31.31" x2="380.7" y2="31.31" stroke="#222" stroke-width="0.5"/>
<line x1="379.1" y1="35.48" x2="380.7" y2="35.48" stroke="#222" stroke-width="0.5"/>
<line x1="379.1" y1="39.65" x2="380.7" y2="39.65" stroke="#222" stroke-width="0.5"/>
<line x1="379.1" y1="43.82" x2="380.7" y2="43.82" stroke="#222" stroke-width="0.5"/>
<line x1="379.1" y1="47.98" x2="380.7" y2="47.98" stroke="#222" stroke-width="0.5"/>
<line x1="379.1" y1="52.15" x2="380.7" y2="52.15" stroke="#222" stroke-width="0.5"/>
<line x1="379.1" y1="56.32" x2="380.7" y2="56.32" stroke="#222" stroke-width="0.5"/>
<line x1="379.1" y1="60.49" x2="380.7" y2="60.49" stroke="#222" stroke-width="0.5"/>
<line x1="379.1" y1="64.66" x2="380.7" y2="64.66" stroke="#222" stroke-width="0.5"/>
<line x1="379.1" y1="68.83" x2="380.7" y2="68.83" stroke="#222" stroke-width="0.5"/>
<line x1="379.1" y1="73" x2="380.7" y2="73" stroke="#222" stroke-width="0.5"/>
<line x1="383.7" y1="75" x2="383.7" y2="77" stroke="#222" stroke-width="0.55"/>
<line x1="387.66" y1="75" x2="387.66" y2="77" stroke="#222" stroke-width="0.55"/>
<line x1="391.62" y1="75" x2="391.62" y2="77" stroke="#222" stroke-width="0.55"/>
<line x1="395.58" y1="75" x2="395.58" y2="77" stroke="#222" stroke-width="0.55"/>
<line x1="399.54" y1="75" x2="399.54" y2="77" stroke="#222" stroke-width="0.55"/>
<line x1="403.5" y1="75" x2="403.5" y2="77" stroke="#222" stroke-width="0.55"/>
<line x1="407.46" y1="75" x2="407.46" y2="77" stroke="#222" stroke-width="0.55"/>
<line x1="411.42" y1="75" x2="411.42" y2="77" stroke="#222" stroke-width="0.55"/>
<line x1="415.38" y1="75" x2="415.38" y2="77" stroke="#222" stroke-width="0.55"/>
<line x1="419.34" y1="75" x2="419.34" y2="77" stroke="#222" stroke-width="0.55"/>
<line x1="423.3" y1="75" x2="423.3" y2="77" stroke="#222" stroke-width="0.55"/>
<line x1="427.26" y1="75" x2="427.26" y2="77" stroke="#222" stroke-width="0.55"/>
<line x1="431.22" y1="75" x2="431.22" y2="77" stroke="#222" stroke-width="0.55"/>
<line x1="435.18" y1="75" x2="435.18" y2="77" stroke="#222" stroke-width="0.55"/>
<line x1="439.14" y1="75" x2="439.14" y2="77" stroke="#222" stroke-width="0.55"/>
<line x1="443.1" y1="75" x2="443.1" y2="77" stroke="#222" stroke-width="0.55"/>
<text x="297" y="20.6" font-size="3.7" style="stroke-width:0">&lt;1%</text>
<text x="358" y="20.6" font-size="3.7" text-anchor="end" style="stroke-width:0">&lt;1%</text>
<text x="297" y="73.4" font-size="3.7" style="stroke-width:0">99%</text>
<text x="358" y="73.4" font-size="3.7" text-anchor="end" style="stroke-width:0">&lt;1%</text>
<text x="382.5" y="20.6" font-size="3.7" style="stroke-width:0">1%</text>
<text x="443.4" y="20.6" font-size="3.7" text-anchor="end" style="stroke-width:0">77%</text>
<text x="382.5" y="73.4" font-size="3.7" style="stroke-width:0">4%</text>
<text x="443.4" y="73.4" font-size="3.7" text-anchor="end" style="stroke-width:0">18%</text>
<text x="291" y="23" font-size="4.2" text-anchor="end" style="stroke-width:0.05">10⁵</text>
<text x="376.2" y="23" font-size="4.2" text-anchor="end" style="stroke-width:0.05">10⁵</text>
<line x1="292.9" y1="21.5" x2="295.5" y2="21.5" stroke="#222" stroke-width="0.8"/>
<line x1="378.1" y1="21.5" x2="380.7" y2="21.5" stroke="#222" stroke-width="0.8"/>
<text x="291" y="36.7" font-size="4.2" text-anchor="end" style="stroke-width:0.05">10⁴</text>
<text x="376.2" y="36.7" font-size="4.2" text-anchor="end" style="stroke-width:0.05">10⁴</text>
<line x1="292.9" y1="35.2" x2="295.5" y2="35.2" stroke="#222" stroke-width="0.8"/>
<line x1="378.1" y1="35.2" x2="380.7" y2="35.2" stroke="#222" stroke-width="0.8"/>
<text x="291" y="50.9" font-size="4.2" text-anchor="end" style="stroke-width:0.05">10³</text>
<text x="376.2" y="50.9" font-size="4.2" text-anchor="end" style="stroke-width:0.05">10³</text>
<line x1="292.9" y1="49.4" x2="295.5" y2="49.4" stroke="#222" stroke-width="0.8"/>
<line x1="378.1" y1="49.4" x2="380.7" y2="49.4" stroke="#222" stroke-width="0.8"/>
<text x="291" y="63.8" font-size="4.2" text-anchor="end" style="stroke-width:0.05">10²</text>
<text x="376.2" y="63.8" font-size="4.2" text-anchor="end" style="stroke-width:0.05">10²</text>
<line x1="292.9" y1="62.3" x2="295.5" y2="62.3" stroke="#222" stroke-width="0.8"/>
<line x1="378.1" y1="62.3" x2="380.7" y2="62.3" stroke="#222" stroke-width="0.8"/>
<text x="291" y="67.7" font-size="4.2" text-anchor="end" style="stroke-width:0.05">0</text>
<text x="376.2" y="67.7" font-size="4.2" text-anchor="end" style="stroke-width:0.05">0</text>
<line x1="292.9" y1="66.2" x2="295.5" y2="66.2" stroke="#222" stroke-width="0.8"/>
<line x1="378.1" y1="66.2" x2="380.7" y2="66.2" stroke="#222" stroke-width="0.8"/>
<text x="307" y="84.3" font-size="4.2" text-anchor="middle" style="stroke-width:0.05">0</text>
<line x1="307" y1="75" x2="307" y2="78.6" stroke="#222" stroke-width="0.7"/>
<text x="322.8" y="84.3" font-size="4.2" text-anchor="middle" style="stroke-width:0.05">10³</text>
<line x1="322.8" y1="75" x2="322.8" y2="78.6" stroke="#222" stroke-width="0.7"/>
<text x="338.8" y="84.3" font-size="4.2" text-anchor="middle" style="stroke-width:0.05">10⁴</text>
<line x1="338.8" y1="75" x2="338.8" y2="78.6" stroke="#222" stroke-width="0.7"/>
<text x="354" y="84.3" font-size="4.2" text-anchor="middle" style="stroke-width:0.05">10⁵</text>
<line x1="354" y1="75" x2="354" y2="78.6" stroke="#222" stroke-width="0.7"/>
<text x="384" y="84.3" font-size="4.2" text-anchor="middle" style="stroke-width:0.05">-10³</text>
<line x1="384" y1="75" x2="384" y2="78.6" stroke="#222" stroke-width="0.7"/>
<text x="390.5" y="84.3" font-size="4.2" text-anchor="middle" style="stroke-width:0.05">0</text>
<line x1="390.5" y1="75" x2="390.5" y2="78.6" stroke="#222" stroke-width="0.7"/>
<text x="394.5" y="84.3" font-size="4.2" text-anchor="middle" style="stroke-width:0.05">10³</text>
<line x1="394.5" y1="75" x2="394.5" y2="78.6" stroke="#222" stroke-width="0.7"/>
<text x="405.5" y="84.3" font-size="4.2" text-anchor="middle" style="stroke-width:0.05">10³</text>
<line x1="405.5" y1="75" x2="405.5" y2="78.6" stroke="#222" stroke-width="0.7"/>
<text x="421" y="84.3" font-size="4.2" text-anchor="middle" style="stroke-width:0.05">10⁴</text>
<line x1="421" y1="75" x2="421" y2="78.6" stroke="#222" stroke-width="0.7"/>
<text x="437" y="84.3" font-size="4.2" text-anchor="middle" style="stroke-width:0.05">10⁵</text>
<line x1="437" y1="75" x2="437" y2="78.6" stroke="#222" stroke-width="0.7"/>
<text x="327.5" y="11.1" font-size="7.3" text-anchor="middle" textLength="33" lengthAdjust="spacingAndGlyphs">GFP only</text>
<text x="413.2" y="11.4" font-size="7.3" text-anchor="middle" textLength="44.9" lengthAdjust="spacingAndGlyphs">EpoRm-CAR</text>
<text x="279" y="45.6" font-size="10.5" text-anchor="middle" textLength="13.8" lengthAdjust="spacingAndGlyphs" transform="rotate(-90 279 45.6)">CAR</text>
<text x="367.5" y="96.5" font-size="10" text-anchor="middle" textLength="16.8" lengthAdjust="spacingAndGlyphs">EpoR</text>
<line x1="313.5" y1="93.4" x2="356.7" y2="93.4" stroke="#231f20" stroke-width="0.9"/>
<line x1="377.3" y1="93.4" x2="420" y2="93.4" stroke="#231f20" stroke-width="0.9"/>
<path d="M418.5 90.9 L424.8 93.4 L418.5 95.9 Z" fill="#231f20"/>
<line x1="37.3" y1="203.6" x2="40.3" y2="203.6" stroke="#231f20" stroke-width="0.9"/>
<text x="34.4" y="206.55" font-size="8.2" text-anchor="end" textLength="4.2" lengthAdjust="spacingAndGlyphs">0</text>
<line x1="37.3" y1="190.28" x2="40.3" y2="190.28" stroke="#231f20" stroke-width="0.9"/>
<text x="34.4" y="193.23" font-size="8.2" text-anchor="end" textLength="8.4" lengthAdjust="spacingAndGlyphs">20</text>
<line x1="37.3" y1="176.96" x2="40.3" y2="176.96" stroke="#231f20" stroke-width="0.9"/>
<text x="34.4" y="179.91" font-size="8.2" text-anchor="end" textLength="8.4" lengthAdjust="spacingAndGlyphs">40</text>
<line x1="37.3" y1="163.64" x2="40.3" y2="163.64" stroke="#231f20" stroke-width="0.9"/>
<text x="34.4" y="166.59" font-size="8.2" text-anchor="end" textLength="8.4" lengthAdjust="spacingAndGlyphs">60</text>
<line x1="37.3" y1="150.32" x2="40.3" y2="150.32" stroke="#231f20" stroke-width="0.9"/>
<text x="34.4" y="153.27" font-size="8.2" text-anchor="end" textLength="8.4" lengthAdjust="spacingAndGlyphs">80</text>
<line x1="37.3" y1="137" x2="40.3" y2="137" stroke="#231f20" stroke-width="0.9"/>
<text x="34.4" y="139.95" font-size="8.2" text-anchor="end" textLength="12.6" lengthAdjust="spacingAndGlyphs">100</text>
<line x1="55.3" y1="134.6" x2="55.3" y2="206.5" stroke="#333" stroke-width="1" stroke-dasharray="3.4 1.95"/>
<line x1="70.7" y1="134.6" x2="70.7" y2="206.5" stroke="#333" stroke-width="1" stroke-dasharray="3.4 1.95"/>
<rect x="40.3" y="134.6" width="46.2" height="71.9" fill="none" stroke="#111" stroke-width="1.2"/>
<circle cx="44" cy="203.4" r="1.6" fill="#4fae32" stroke="#111" stroke-width="0.75"/>
<circle cx="46.5" cy="203.6" r="1.6" fill="#4fae32" stroke="#111" stroke-width="0.75"/>
<circle cx="49" cy="203.4" r="1.6" fill="#4fae32" stroke="#111" stroke-width="0.75"/>
<circle cx="50.5" cy="203.6" r="1.6" fill="#4fae32" stroke="#111" stroke-width="0.75"/>
<circle cx="60.4" cy="145.4" r="1.6" fill="#274a90" stroke="#111" stroke-width="0.75"/>
<circle cx="66.6" cy="147.7" r="1.6" fill="#274a90" stroke="#111" stroke-width="0.75"/>
<circle cx="62" cy="148" r="1.6" fill="#274a90" stroke="#111" stroke-width="0.75"/>
<circle cx="64.3" cy="148.9" r="1.6" fill="#274a90" stroke="#111" stroke-width="0.75"/>
<circle cx="60" cy="151.6" r="1.6" fill="#274a90" stroke="#111" stroke-width="0.75"/>
<circle cx="66.4" cy="151.6" r="1.6" fill="#274a90" stroke="#111" stroke-width="0.75"/>
<circle cx="63" cy="152" r="1.6" fill="#274a90" stroke="#111" stroke-width="0.75"/>
<circle cx="61.6" cy="156.2" r="1.6" fill="#274a90" stroke="#111" stroke-width="0.75"/>
<circle cx="64.6" cy="157" r="1.6" fill="#274a90" stroke="#111" stroke-width="0.75"/>
<circle cx="65.8" cy="167.4" r="1.6" fill="#274a90" stroke="#111" stroke-width="0.75"/>
<circle cx="60" cy="169.5" r="1.6" fill="#274a90" stroke="#111" stroke-width="0.75"/>
<circle cx="75.2" cy="149.8" r="1.6" fill="#d0103a" stroke="#111" stroke-width="0.75"/>
<circle cx="75.7" cy="151.3" r="1.6" fill="#d0103a" stroke="#111" stroke-width="0.75"/>
<circle cx="80.9" cy="150.3" r="1.6" fill="#d0103a" stroke="#111" stroke-width="0.75"/>
<circle cx="77.8" cy="154.4" r="1.6" fill="#d0103a" stroke="#111" stroke-width="0.75"/>
<circle cx="80.9" cy="154.4" r="1.6" fill="#d0103a" stroke="#111" stroke-width="0.75"/>
<circle cx="75.7" cy="159" r="1.6" fill="#d0103a" stroke="#111" stroke-width="0.75"/>
<circle cx="78.8" cy="161.6" r="1.6" fill="#d0103a" stroke="#111" stroke-width="0.75"/>
<circle cx="81.4" cy="161.1" r="1.6" fill="#d0103a" stroke="#111" stroke-width="0.75"/>
<circle cx="78.3" cy="170.4" r="1.6" fill="#d0103a" stroke="#111" stroke-width="0.75"/>
<circle cx="78.3" cy="176.3" r="1.6" fill="#d0103a" stroke="#111" stroke-width="0.75"/>
<line x1="73" y1="155.3" x2="82" y2="155.3" stroke="#231f20" stroke-width="0.7"/>
<line x1="58.5" y1="150.2" x2="67.5" y2="150.2" stroke="#231f20" stroke-width="0.7"/>
<line x1="127.5" y1="203.6" x2="130.5" y2="203.6" stroke="#231f20" stroke-width="0.9"/>
<text x="124.6" y="206.55" font-size="8.2" text-anchor="end" textLength="4.2" lengthAdjust="spacingAndGlyphs">0</text>
<line x1="127.5" y1="190.28" x2="130.5" y2="190.28" stroke="#231f20" stroke-width="0.9"/>
<text x="124.6" y="193.23" font-size="8.2" text-anchor="end" textLength="8.4" lengthAdjust="spacingAndGlyphs">20</text>
<line x1="127.5" y1="176.96" x2="130.5" y2="176.96" stroke="#231f20" stroke-width="0.9"/>
<text x="124.6" y="179.91" font-size="8.2" text-anchor="end" textLength="8.4" lengthAdjust="spacingAndGlyphs">40</text>
<line x1="127.5" y1="163.64" x2="130.5" y2="163.64" stroke="#231f20" stroke-width="0.9"/>
<text x="124.6" y="166.59" font-size="8.2" text-anchor="end" textLength="8.4" lengthAdjust="spacingAndGlyphs">60</text>
<line x1="127.5" y1="150.32" x2="130.5" y2="150.32" stroke="#231f20" stroke-width="0.9"/>
<text x="124.6" y="153.27" font-size="8.2" text-anchor="end" textLength="8.4" lengthAdjust="spacingAndGlyphs">80</text>
<line x1="127.5" y1="137" x2="130.5" y2="137" stroke="#231f20" stroke-width="0.9"/>
<text x="124.6" y="139.95" font-size="8.2" text-anchor="end" textLength="12.6" lengthAdjust="spacingAndGlyphs">100</text>
<line x1="146.5" y1="134.6" x2="146.5" y2="206.5" stroke="#333" stroke-width="1" stroke-dasharray="3.4 1.95"/>
<line x1="160.8" y1="134.6" x2="160.8" y2="206.5" stroke="#333" stroke-width="1" stroke-dasharray="3.4 1.95"/>
<rect x="130.5" y="134.6" width="45.8" height="71.9" fill="none" stroke="#111" stroke-width="1.2"/>
<circle cx="134.5" cy="203.4" r="1.6" fill="#20306a" stroke="#111" stroke-width="0.75"/>
<circle cx="137" cy="203.6" r="1.6" fill="#20306a" stroke="#111" stroke-width="0.75"/>
<circle cx="139.5" cy="203.4" r="1.6" fill="#20306a" stroke="#111" stroke-width="0.75"/>
<circle cx="150.4" cy="138.3" r="1.6" fill="#4a1c63" stroke="#111" stroke-width="0.75"/>
<circle cx="155.7" cy="138.3" r="1.6" fill="#4a1c63" stroke="#111" stroke-width="0.75"/>
<circle cx="153" cy="142.8" r="1.6" fill="#4a1c63" stroke="#111" stroke-width="0.75"/>
<circle cx="165.5" cy="139" r="1.6" fill="#d0103a" stroke="#111" stroke-width="0.75"/>
<circle cx="170.9" cy="139" r="1.6" fill="#d0103a" stroke="#111" stroke-width="0.75"/>
<circle cx="168.3" cy="140.2" r="1.6" fill="#d0103a" stroke="#111" stroke-width="0.75"/>
<circle cx="165.7" cy="141.5" r="1.6" fill="#d0103a" stroke="#111" stroke-width="0.75"/>
<circle cx="170.9" cy="142.8" r="1.6" fill="#d0103a" stroke="#111" stroke-width="0.75"/>
<circle cx="167" cy="144.1" r="1.6" fill="#d0103a" stroke="#111" stroke-width="0.75"/>
<circle cx="168.6" cy="146.4" r="1.6" fill="#d0103a" stroke="#111" stroke-width="0.75"/>
<circle cx="169.5" cy="144.5" r="1.6" fill="#d0103a" stroke="#111" stroke-width="0.75"/>
<circle cx="166.5" cy="139.8" r="1.6" fill="#d0103a" stroke="#111" stroke-width="0.75"/>
<text x="15.6" y="169.9" font-size="9.2" text-anchor="middle" textLength="43.8" lengthAdjust="spacingAndGlyphs" transform="rotate(-90 15.6 169.9)">% CAR+ cells</text>
<text x="104.5" y="169" font-size="9" text-anchor="middle" textLength="45.6" lengthAdjust="spacingAndGlyphs" transform="rotate(-90 104.5 169)">% EpoR+ cells</text>
<circle cx="40.5" cy="219.8" r="1.6" fill="#4fae32" stroke="#111" stroke-width="0.7"/>
<text x="45.5" y="222.5" font-size="7.9" textLength="30.3" lengthAdjust="spacingAndGlyphs">GFP only</text>
<circle cx="40.5" cy="227.3" r="1.6" fill="#274a90" stroke="#111" stroke-width="0.7"/>
<text x="45.5" y="230" font-size="7.9" textLength="14.5" lengthAdjust="spacingAndGlyphs">CAR</text>
<circle cx="40.5" cy="234.9" r="1.6" fill="#d0103a" stroke="#111" stroke-width="0.7"/>
<text x="45.5" y="237.6" font-size="7.9" textLength="41.7" lengthAdjust="spacingAndGlyphs">EpoRm-CAR</text>
<circle cx="130.5" cy="219.8" r="1.6" fill="#4fae32" stroke="#111" stroke-width="0.7"/>
<text x="135.5" y="222.5" font-size="7.9" textLength="30.3" lengthAdjust="spacingAndGlyphs">GFP only</text>
<circle cx="130.5" cy="227.3" r="1.6" fill="#4a1c63" stroke="#111" stroke-width="0.7"/>
<text x="135.5" y="230" font-size="7.9" textLength="24.5" lengthAdjust="spacingAndGlyphs">EpoRm</text>
<circle cx="130.5" cy="234.9" r="1.6" fill="#d0103a" stroke="#111" stroke-width="0.7"/>
<text x="135.5" y="237.6" font-size="7.9" textLength="41.7" lengthAdjust="spacingAndGlyphs">EpoRm-CAR</text>
<line x1="37.6" y1="349.2" x2="40.6" y2="349.2" stroke="#231f20" stroke-width="0.9"/>
<text x="34.4" y="352.15" font-size="8.2" text-anchor="end" textLength="4.2" lengthAdjust="spacingAndGlyphs">0</text>
<line x1="37.6" y1="336" x2="40.6" y2="336" stroke="#231f20" stroke-width="0.9"/>
<text x="34.4" y="338.95" font-size="8.2" text-anchor="end" textLength="8.4" lengthAdjust="spacingAndGlyphs">20</text>
<line x1="37.6" y1="322.8" x2="40.6" y2="322.8" stroke="#231f20" stroke-width="0.9"/>
<text x="34.4" y="325.75" font-size="8.2" text-anchor="end" textLength="8.4" lengthAdjust="spacingAndGlyphs">40</text>
<line x1="37.6" y1="309.6" x2="40.6" y2="309.6" stroke="#231f20" stroke-width="0.9"/>
<text x="34.4" y="312.55" font-size="8.2" text-anchor="end" textLength="8.4" lengthAdjust="spacingAndGlyphs">60</text>
<line x1="37.6" y1="296.4" x2="40.6" y2="296.4" stroke="#231f20" stroke-width="0.9"/>
<text x="34.4" y="299.35" font-size="8.2" text-anchor="end" textLength="8.4" lengthAdjust="spacingAndGlyphs">80</text>
<line x1="37.6" y1="283.2" x2="40.6" y2="283.2" stroke="#231f20" stroke-width="0.9"/>
<text x="34.4" y="286.15" font-size="8.2" text-anchor="end" textLength="12.6" lengthAdjust="spacingAndGlyphs">100</text>
<line x1="55.5" y1="279.8" x2="55.5" y2="351.6" stroke="#333" stroke-width="1" stroke-dasharray="3.4 1.95"/>
<line x1="71.2" y1="279.8" x2="71.2" y2="351.6" stroke="#333" stroke-width="1" stroke-dasharray="3.4 1.95"/>
<rect x="40.6" y="279.8" width="46" height="71.8" fill="none" stroke="#111" stroke-width="1.2"/>
<line x1="95.4" y1="349.2" x2="98.4" y2="349.2" stroke="#231f20" stroke-width="0.9"/>
<line x1="95.4" y1="336" x2="98.4" y2="336" stroke="#231f20" stroke-width="0.9"/>
<line x1="95.4" y1="322.8" x2="98.4" y2="322.8" stroke="#231f20" stroke-width="0.9"/>
<line x1="95.4" y1="309.6" x2="98.4" y2="309.6" stroke="#231f20" stroke-width="0.9"/>
<line x1="95.4" y1="296.4" x2="98.4" y2="296.4" stroke="#231f20" stroke-width="0.9"/>
<line x1="95.4" y1="283.2" x2="98.4" y2="283.2" stroke="#231f20" stroke-width="0.9"/>
<line x1="113.6" y1="279.8" x2="113.6" y2="351.6" stroke="#333" stroke-width="1" stroke-dasharray="3.4 1.95"/>
<line x1="129.6" y1="279.8" x2="129.6" y2="351.6" stroke="#333" stroke-width="1" stroke-dasharray="3.4 1.95"/>
<rect x="98.4" y="279.8" width="45.8" height="71.8" fill="none" stroke="#111" stroke-width="1.2"/>
<line x1="152.9" y1="349.2" x2="155.9" y2="349.2" stroke="#231f20" stroke-width="0.9"/>
<line x1="152.9" y1="336" x2="155.9" y2="336" stroke="#231f20" stroke-width="0.9"/>
<line x1="152.9" y1="322.8" x2="155.9" y2="322.8" stroke="#231f20" stroke-width="0.9"/>
<line x1="152.9" y1="309.6" x2="155.9" y2="309.6" stroke="#231f20" stroke-width="0.9"/>
<line x1="152.9" y1="296.4" x2="155.9" y2="296.4" stroke="#231f20" stroke-width="0.9"/>
<line x1="152.9" y1="283.2" x2="155.9" y2="283.2" stroke="#231f20" stroke-width="0.9"/>
<line x1="171.8" y1="279.8" x2="171.8" y2="351.6" stroke="#333" stroke-width="1" stroke-dasharray="3.4 1.95"/>
<line x1="187.4" y1="279.8" x2="187.4" y2="351.6" stroke="#333" stroke-width="1" stroke-dasharray="3.4 1.95"/>
<rect x="155.9" y="279.8" width="46.4" height="71.8" fill="none" stroke="#111" stroke-width="1.2"/>
<circle cx="45.3" cy="344.8" r="1.6" fill="#4fae32" stroke="#111" stroke-width="0.75"/>
<circle cx="48.7" cy="347.5" r="1.6" fill="#4fae32" stroke="#111" stroke-width="0.75"/>
<circle cx="47.2" cy="348" r="1.6" fill="#4fae32" stroke="#111" stroke-width="0.75"/>
<circle cx="50.6" cy="346.6" r="1.6" fill="#4fae32" stroke="#111" stroke-width="0.75"/>
<circle cx="60.2" cy="347.7" r="1.6" fill="#4a1c63" stroke="#111" stroke-width="0.75"/>
<circle cx="63" cy="347.7" r="1.6" fill="#4a1c63" stroke="#111" stroke-width="0.75"/>
<circle cx="66" cy="347.7" r="1.6" fill="#4a1c63" stroke="#111" stroke-width="0.75"/>
<circle cx="76" cy="345.6" r="1.6" fill="#d0103a" stroke="#111" stroke-width="0.75"/>
<circle cx="78" cy="348" r="1.6" fill="#d0103a" stroke="#111" stroke-width="0.75"/>
<circle cx="80.9" cy="346.1" r="1.6" fill="#d0103a" stroke="#111" stroke-width="0.75"/>
<circle cx="79.4" cy="347.7" r="1.6" fill="#d0103a" stroke="#111" stroke-width="0.75"/>
<circle cx="102.5" cy="345" r="1.6" fill="#4fae32" stroke="#111" stroke-width="0.75"/>
<circle cx="105.5" cy="346" r="1.6" fill="#4fae32" stroke="#111" stroke-width="0.75"/>
<circle cx="103.5" cy="348" r="1.6" fill="#4fae32" stroke="#111" stroke-width="0.75"/>
<circle cx="106.5" cy="348.3" r="1.6" fill="#4fae32" stroke="#111" stroke-width="0.75"/>
<circle cx="118.6" cy="283.7" r="1.6" fill="#4a1c63" stroke="#111" stroke-width="0.75"/>
<circle cx="120.6" cy="286.3" r="1.6" fill="#4a1c63" stroke="#111" stroke-width="0.75"/>
<circle cx="123.8" cy="286.5" r="1.6" fill="#4a1c63" stroke="#111" stroke-width="0.75"/>
<circle cx="121.7" cy="287.5" r="1.6" fill="#4a1c63" stroke="#111" stroke-width="0.75"/>
<circle cx="136.1" cy="285.4" r="1.6" fill="#d0103a" stroke="#111" stroke-width="0.75"/>
<circle cx="133.8" cy="287.1" r="1.6" fill="#d0103a" stroke="#111" stroke-width="0.75"/>
<circle cx="139" cy="287.1" r="1.6" fill="#d0103a" stroke="#111" stroke-width="0.75"/>
<circle cx="137.5" cy="286.6" r="1.6" fill="#d0103a" stroke="#111" stroke-width="0.75"/>
<circle cx="137.3" cy="289.8" r="1.6" fill="#d0103a" stroke="#111" stroke-width="0.75"/>
<circle cx="135.2" cy="289.6" r="1.6" fill="#d0103a" stroke="#111" stroke-width="0.75"/>
<circle cx="135.9" cy="292.3" r="1.6" fill="#d0103a" stroke="#111" stroke-width="0.75"/>
<circle cx="139.6" cy="288.3" r="1.6" fill="#d0103a" stroke="#111" stroke-width="0.75"/>
<circle cx="161.5" cy="348.6" r="1.6" fill="#4fae32" stroke="#111" stroke-width="0.75"/>
<circle cx="164.5" cy="348.6" r="1.6" fill="#4fae32" stroke="#111" stroke-width="0.75"/>
<circle cx="166.5" cy="348.4" r="1.6" fill="#4fae32" stroke="#111" stroke-width="0.75"/>
<circle cx="176.5" cy="348.6" r="1.6" fill="#4a1c63" stroke="#111" stroke-width="0.75"/>
<circle cx="179" cy="348.6" r="1.6" fill="#4a1c63" stroke="#111" stroke-width="0.75"/>
<circle cx="181.5" cy="348.6" r="1.6" fill="#4a1c63" stroke="#111" stroke-width="0.75"/>
<circle cx="191.5" cy="348.6" r="1.6" fill="#d0103a" stroke="#111" stroke-width="0.75"/>
<circle cx="194.5" cy="348.6" r="1.6" fill="#d0103a" stroke="#111" stroke-width="0.75"/>
<circle cx="197" cy="348.4" r="1.6" fill="#d0103a" stroke="#111" stroke-width="0.75"/>
<text x="63.65" y="274.5" font-size="8.7" text-anchor="middle" textLength="32.7" lengthAdjust="spacingAndGlyphs">No Epo</text>
<text x="121.25" y="274.5" font-size="8.7" text-anchor="middle" textLength="16.3" lengthAdjust="spacingAndGlyphs">Epo</text>
<text x="179.4" y="262.5" font-size="8.7" text-anchor="middle" textLength="25.4" lengthAdjust="spacingAndGlyphs">Epo +</text>
<text x="179.5" y="274.6" font-size="8.7" text-anchor="middle" textLength="42.4" lengthAdjust="spacingAndGlyphs">ruxolitinib</text>
<text x="15" y="313.5" font-size="9" text-anchor="middle" textLength="51" lengthAdjust="spacingAndGlyphs" transform="rotate(-90 15 313.5)">% pSTAT5+ cells</text>
<circle cx="53.5" cy="365.6" r="1.6" fill="#4fae32" stroke="#111" stroke-width="0.7"/>
<text x="58.8" y="367.9" font-size="7.9" textLength="29.7" lengthAdjust="spacingAndGlyphs">GFP only</text>
<circle cx="99.5" cy="365.6" r="1.6" fill="#4a1c63" stroke="#111" stroke-width="0.7"/>
<text x="104.4" y="367.9" font-size="7.9" textLength="24.6" lengthAdjust="spacingAndGlyphs">EpoRm</text>
<circle cx="140.3" cy="365.6" r="1.6" fill="#d0103a" stroke="#111" stroke-width="0.7"/>
<text x="145.4" y="367.9" font-size="7.9" textLength="42.3" lengthAdjust="spacingAndGlyphs">EpoRm-CAR</text>
<line x1="269.6" y1="206.2" x2="272.5" y2="206.2" stroke="#231f20" stroke-width="0.9"/>
<line x1="269.6" y1="191.78" x2="272.5" y2="191.78" stroke="#231f20" stroke-width="0.9"/>
<line x1="269.6" y1="177.36" x2="272.5" y2="177.36" stroke="#231f20" stroke-width="0.9"/>
<line x1="269.6" y1="162.94" x2="272.5" y2="162.94" stroke="#231f20" stroke-width="0.9"/>
<line x1="269.6" y1="148.52" x2="272.5" y2="148.52" stroke="#231f20" stroke-width="0.9"/>
<line x1="269.6" y1="134.1" x2="272.5" y2="134.1" stroke="#231f20" stroke-width="0.9"/>
<line x1="272.5" y1="131.1" x2="272.5" y2="206.7" stroke="#231f20" stroke-width="1.1"/>
<line x1="272" y1="206.2" x2="322" y2="206.2" stroke="#231f20" stroke-width="1.1"/>
<line x1="296.5" y1="206.2" x2="296.5" y2="209.2" stroke="#231f20" stroke-width="0.9"/>
<rect x="274.1" y="188.17" width="5.2" height="18.03" fill="#b4d398"/>
<rect x="281.55" y="149.96" width="5.2" height="56.24" fill="#8e97bb"/>
<rect x="289" y="149.96" width="5.2" height="56.24" fill="#d08e81"/>
<rect x="299" y="192.5" width="5.2" height="13.7" fill="#b4d398"/>
<rect x="306.45" y="149.96" width="5.2" height="56.24" fill="#8e97bb"/>
<rect x="313.9" y="149.24" width="5.2" height="56.96" fill="#d08e81"/>
<line x1="276.7" y1="182.41" x2="276.7" y2="193.94" stroke="#6cb24a" stroke-width="0.8"/>
<line x1="275.5" y1="182.41" x2="277.9" y2="182.41" stroke="#6cb24a" stroke-width="0.8"/>
<line x1="275.5" y1="193.94" x2="277.9" y2="193.94" stroke="#6cb24a" stroke-width="0.8"/>
<circle cx="275.5" cy="182.41" r="1.6" fill="#fff" stroke="#6cb24a" stroke-width="0.8"/>
<circle cx="277.9" cy="183.13" r="1.6" fill="#fff" stroke="#6cb24a" stroke-width="0.8"/>
<circle cx="275.5" cy="187.45" r="1.6" fill="#fff" stroke="#6cb24a" stroke-width="0.8"/>
<circle cx="277.9" cy="188.9" r="1.6" fill="#fff" stroke="#6cb24a" stroke-width="0.8"/>
<circle cx="275.5" cy="192.5" r="1.6" fill="#fff" stroke="#6cb24a" stroke-width="0.8"/>
<circle cx="277.9" cy="193.94" r="1.6" fill="#fff" stroke="#6cb24a" stroke-width="0.8"/>
<line x1="284.15" y1="137.7" x2="284.15" y2="163.3" stroke="#33579e" stroke-width="0.8"/>
<line x1="282.95" y1="137.7" x2="285.35" y2="137.7" stroke="#33579e" stroke-width="0.8"/>
<line x1="282.95" y1="163.3" x2="285.35" y2="163.3" stroke="#33579e" stroke-width="0.8"/>
<circle cx="282.95" cy="137.7" r="1.6" fill="#fff" stroke="#33579e" stroke-width="0.8"/>
<circle cx="285.35" cy="138.43" r="1.6" fill="#fff" stroke="#33579e" stroke-width="0.8"/>
<circle cx="282.95" cy="147.08" r="1.6" fill="#fff" stroke="#33579e" stroke-width="0.8"/>
<circle cx="285.35" cy="147.08" r="1.6" fill="#fff" stroke="#33579e" stroke-width="0.8"/>
<circle cx="285.35" cy="160.78" r="1.6" fill="#fff" stroke="#33579e" stroke-width="0.8"/>
<circle cx="282.95" cy="163.3" r="1.6" fill="#fff" stroke="#33579e" stroke-width="0.8"/>
<line x1="291.6" y1="140.59" x2="291.6" y2="161.5" stroke="#c8203e" stroke-width="0.8"/>
<line x1="290.4" y1="140.59" x2="292.8" y2="140.59" stroke="#c8203e" stroke-width="0.8"/>
<line x1="290.4" y1="161.5" x2="292.8" y2="161.5" stroke="#c8203e" stroke-width="0.8"/>
<circle cx="290.4" cy="140.59" r="1.6" fill="#fff" stroke="#c8203e" stroke-width="0.8"/>
<circle cx="292.8" cy="140.59" r="1.6" fill="#fff" stroke="#c8203e" stroke-width="0.8"/>
<circle cx="290.4" cy="148.52" r="1.6" fill="#fff" stroke="#c8203e" stroke-width="0.8"/>
<circle cx="292.8" cy="148.52" r="1.6" fill="#fff" stroke="#c8203e" stroke-width="0.8"/>
<circle cx="290.6" cy="156.81" r="1.6" fill="#fff" stroke="#c8203e" stroke-width="0.8"/>
<circle cx="292.8" cy="157.89" r="1.6" fill="#fff" stroke="#c8203e" stroke-width="0.8"/>
<circle cx="291.6" cy="161.5" r="1.6" fill="#fff" stroke="#c8203e" stroke-width="0.8"/>
<line x1="301.6" y1="182.41" x2="301.6" y2="201.15" stroke="#6cb24a" stroke-width="0.8"/>
<line x1="300.4" y1="182.41" x2="302.8" y2="182.41" stroke="#6cb24a" stroke-width="0.8"/>
<line x1="300.4" y1="201.15" x2="302.8" y2="201.15" stroke="#6cb24a" stroke-width="0.8"/>
<circle cx="301.6" cy="182.41" r="1.6" fill="#fff" stroke="#6cb24a" stroke-width="0.8"/>
<circle cx="302.6" cy="183.13" r="1.6" fill="#fff" stroke="#6cb24a" stroke-width="0.8"/>
<circle cx="300.6" cy="196.11" r="1.6" fill="#fff" stroke="#6cb24a" stroke-width="0.8"/>
<circle cx="302.8" cy="198.27" r="1.6" fill="#fff" stroke="#6cb24a" stroke-width="0.8"/>
<circle cx="300.6" cy="199.71" r="1.6" fill="#fff" stroke="#6cb24a" stroke-width="0.8"/>
<circle cx="302.1" cy="201.15" r="1.6" fill="#fff" stroke="#6cb24a" stroke-width="0.8"/>
<line x1="309.05" y1="138.43" x2="309.05" y2="162.94" stroke="#33579e" stroke-width="0.8"/>
<line x1="307.85" y1="138.43" x2="310.25" y2="138.43" stroke="#33579e" stroke-width="0.8"/>
<line x1="307.85" y1="162.94" x2="310.25" y2="162.94" stroke="#33579e" stroke-width="0.8"/>
<circle cx="307.85" cy="138.43" r="1.6" fill="#fff" stroke="#33579e" stroke-width="0.8"/>
<circle cx="310.25" cy="139.87" r="1.6" fill="#fff" stroke="#33579e" stroke-width="0.8"/>
<circle cx="307.85" cy="147.08" r="1.6" fill="#fff" stroke="#33579e" stroke-width="0.8"/>
<circle cx="310.25" cy="147.08" r="1.6" fill="#fff" stroke="#33579e" stroke-width="0.8"/>
<circle cx="309.05" cy="160.06" r="1.6" fill="#fff" stroke="#33579e" stroke-width="0.8"/>
<circle cx="307.85" cy="162.94" r="1.6" fill="#fff" stroke="#33579e" stroke-width="0.8"/>
<line x1="316.5" y1="140.59" x2="316.5" y2="161.5" stroke="#c8203e" stroke-width="0.8"/>
<line x1="315.3" y1="140.59" x2="317.7" y2="140.59" stroke="#c8203e" stroke-width="0.8"/>
<line x1="315.3" y1="161.5" x2="317.7" y2="161.5" stroke="#c8203e" stroke-width="0.8"/>
<circle cx="315.3" cy="140.59" r="1.6" fill="#fff" stroke="#c8203e" stroke-width="0.8"/>
<circle cx="317.7" cy="140.59" r="1.6" fill="#fff" stroke="#c8203e" stroke-width="0.8"/>
<circle cx="315.3" cy="148.52" r="1.6" fill="#fff" stroke="#c8203e" stroke-width="0.8"/>
<circle cx="317.7" cy="148.52" r="1.6" fill="#fff" stroke="#c8203e" stroke-width="0.8"/>
<circle cx="315.3" cy="157.89" r="1.6" fill="#fff" stroke="#c8203e" stroke-width="0.8"/>
<circle cx="317.7" cy="160.06" r="1.6" fill="#fff" stroke="#c8203e" stroke-width="0.8"/>
<circle cx="315.3" cy="161.5" r="1.6" fill="#fff" stroke="#c8203e" stroke-width="0.8"/>
<text x="297" y="126.4" font-size="7.9" text-anchor="middle">OP-1</text>
<text x="286.75" y="216.3" font-size="7.9" text-anchor="end" textLength="24.5" lengthAdjust="spacingAndGlyphs" transform="rotate(-45 286.75 216.3)">no Epo</text>
<text x="311.45" y="216.3" font-size="7.9" text-anchor="end" textLength="13.5" lengthAdjust="spacingAndGlyphs" transform="rotate(-45 311.45 216.3)">Epo</text>
<line x1="337.6" y1="206.2" x2="340.5" y2="206.2" stroke="#231f20" stroke-width="0.9"/>
<line x1="337.6" y1="191.78" x2="340.5" y2="191.78" stroke="#231f20" stroke-width="0.9"/>
<line x1="337.6" y1="177.36" x2="340.5" y2="177.36" stroke="#231f20" stroke-width="0.9"/>
<line x1="337.6" y1="162.94" x2="340.5" y2="162.94" stroke="#231f20" stroke-width="0.9"/>
<line x1="337.6" y1="148.52" x2="340.5" y2="148.52" stroke="#231f20" stroke-width="0.9"/>
<line x1="337.6" y1="134.1" x2="340.5" y2="134.1" stroke="#231f20" stroke-width="0.9"/>
<line x1="340.5" y1="131.1" x2="340.5" y2="206.7" stroke="#231f20" stroke-width="1.1"/>
<line x1="340" y1="206.2" x2="387.5" y2="206.2" stroke="#231f20" stroke-width="1.1"/>
<line x1="363.5" y1="206.2" x2="363.5" y2="209.2" stroke="#231f20" stroke-width="0.9"/>
<rect x="342.5" y="198.27" width="4.8" height="7.93" fill="#b4d398"/>
<rect x="349.4" y="141.31" width="4.8" height="64.89" fill="#8e97bb"/>
<rect x="356.3" y="142.03" width="4.8" height="64.17" fill="#d08e81"/>
<rect x="366" y="198.99" width="4.8" height="7.21" fill="#b4d398"/>
<rect x="372.9" y="141.31" width="4.8" height="64.89" fill="#8e97bb"/>
<rect x="379.8" y="141.31" width="4.8" height="64.89" fill="#d08e81"/>
<line x1="344.9" y1="191.78" x2="344.9" y2="201.15" stroke="#6cb24a" stroke-width="0.8"/>
<line x1="343.7" y1="191.78" x2="346.1" y2="191.78" stroke="#6cb24a" stroke-width="0.8"/>
<line x1="343.7" y1="201.15" x2="346.1" y2="201.15" stroke="#6cb24a" stroke-width="0.8"/>
<circle cx="343.9" cy="191.78" r="1.6" fill="#fff" stroke="#6cb24a" stroke-width="0.8"/>
<circle cx="345.9" cy="193.22" r="1.6" fill="#fff" stroke="#6cb24a" stroke-width="0.8"/>
<circle cx="344.9" cy="195.38" r="1.6" fill="#fff" stroke="#6cb24a" stroke-width="0.8"/>
<circle cx="345.9" cy="197.55" r="1.6" fill="#fff" stroke="#6cb24a" stroke-width="0.8"/>
<circle cx="343.9" cy="198.27" r="1.6" fill="#fff" stroke="#6cb24a" stroke-width="0.8"/>
<circle cx="344.9" cy="199.71" r="1.6" fill="#fff" stroke="#6cb24a" stroke-width="0.8"/>
<circle cx="343.9" cy="201.15" r="1.6" fill="#fff" stroke="#6cb24a" stroke-width="0.8"/>
<line x1="351.8" y1="136.98" x2="351.8" y2="141.67" stroke="#33579e" stroke-width="0.8"/>
<line x1="350.6" y1="136.98" x2="353" y2="136.98" stroke="#33579e" stroke-width="0.8"/>
<line x1="350.6" y1="141.67" x2="353" y2="141.67" stroke="#33579e" stroke-width="0.8"/>
<circle cx="351.8" cy="136.98" r="1.6" fill="#fff" stroke="#33579e" stroke-width="0.8"/>
<circle cx="350.5" cy="139.87" r="1.6" fill="#fff" stroke="#33579e" stroke-width="0.8"/>
<circle cx="353.1" cy="139.87" r="1.6" fill="#fff" stroke="#33579e" stroke-width="0.8"/>
<circle cx="350.6" cy="141.67" r="1.6" fill="#fff" stroke="#33579e" stroke-width="0.8"/>
<circle cx="353" cy="141.67" r="1.6" fill="#fff" stroke="#33579e" stroke-width="0.8"/>
<line x1="358.7" y1="138.43" x2="358.7" y2="142.75" stroke="#c8203e" stroke-width="0.8"/>
<line x1="357.5" y1="138.43" x2="359.9" y2="138.43" stroke="#c8203e" stroke-width="0.8"/>
<line x1="357.5" y1="142.75" x2="359.9" y2="142.75" stroke="#c8203e" stroke-width="0.8"/>
<circle cx="358.7" cy="138.43" r="1.6" fill="#fff" stroke="#c8203e" stroke-width="0.8"/>
<circle cx="357.4" cy="139.87" r="1.6" fill="#fff" stroke="#c8203e" stroke-width="0.8"/>
<circle cx="360" cy="139.87" r="1.6" fill="#fff" stroke="#c8203e" stroke-width="0.8"/>
<circle cx="357.7" cy="142.03" r="1.6" fill="#fff" stroke="#c8203e" stroke-width="0.8"/>
<circle cx="359.9" cy="142.75" r="1.6" fill="#fff" stroke="#c8203e" stroke-width="0.8"/>
<line x1="368.4" y1="193.22" x2="368.4" y2="203.32" stroke="#6cb24a" stroke-width="0.8"/>
<line x1="367.2" y1="193.22" x2="369.6" y2="193.22" stroke="#6cb24a" stroke-width="0.8"/>
<line x1="367.2" y1="203.32" x2="369.6" y2="203.32" stroke="#6cb24a" stroke-width="0.8"/>
<circle cx="368.4" cy="193.22" r="1.6" fill="#fff" stroke="#6cb24a" stroke-width="0.8"/>
<circle cx="368.4" cy="195.38" r="1.6" fill="#fff" stroke="#6cb24a" stroke-width="0.8"/>
<circle cx="368.4" cy="198.27" r="1.6" fill="#fff" stroke="#6cb24a" stroke-width="0.8"/>
<circle cx="368.4" cy="201.15" r="1.6" fill="#fff" stroke="#6cb24a" stroke-width="0.8"/>
<circle cx="368.4" cy="203.32" r="1.6" fill="#fff" stroke="#6cb24a" stroke-width="0.8"/>
<line x1="375.3" y1="136.98" x2="375.3" y2="141.67" stroke="#33579e" stroke-width="0.8"/>
<line x1="374.1" y1="136.98" x2="376.5" y2="136.98" stroke="#33579e" stroke-width="0.8"/>
<line x1="374.1" y1="141.67" x2="376.5" y2="141.67" stroke="#33579e" stroke-width="0.8"/>
<circle cx="375.3" cy="136.98" r="1.6" fill="#fff" stroke="#33579e" stroke-width="0.8"/>
<circle cx="374" cy="139.15" r="1.6" fill="#fff" stroke="#33579e" stroke-width="0.8"/>
<circle cx="376.6" cy="139.15" r="1.6" fill="#fff" stroke="#33579e" stroke-width="0.8"/>
<circle cx="374" cy="141.67" r="1.6" fill="#fff" stroke="#33579e" stroke-width="0.8"/>
<circle cx="376.6" cy="141.31" r="1.6" fill="#fff" stroke="#33579e" stroke-width="0.8"/>
<line x1="382.2" y1="138.43" x2="382.2" y2="140.59" stroke="#c8203e" stroke-width="0.8"/>
<line x1="381" y1="138.43" x2="383.4" y2="138.43" stroke="#c8203e" stroke-width="0.8"/>
<line x1="381" y1="140.59" x2="383.4" y2="140.59" stroke="#c8203e" stroke-width="0.8"/>
<circle cx="382.2" cy="138.43" r="1.6" fill="#fff" stroke="#c8203e" stroke-width="0.8"/>
<circle cx="381" cy="139.15" r="1.6" fill="#fff" stroke="#c8203e" stroke-width="0.8"/>
<circle cx="383.4" cy="139.15" r="1.6" fill="#fff" stroke="#c8203e" stroke-width="0.8"/>
<circle cx="382.2" cy="140.59" r="1.6" fill="#fff" stroke="#c8203e" stroke-width="0.8"/>
<text x="365.3" y="126.4" font-size="7.9" text-anchor="middle">RS4;11</text>
<text x="354.4" y="216.3" font-size="7.9" text-anchor="end" textLength="24.5" lengthAdjust="spacingAndGlyphs" transform="rotate(-45 354.4 216.3)">no Epo</text>
<text x="377.7" y="216.3" font-size="7.9" text-anchor="end" textLength="13.5" lengthAdjust="spacingAndGlyphs" transform="rotate(-45 377.7 216.3)">Epo</text>
<line x1="403.6" y1="206.2" x2="406.5" y2="206.2" stroke="#231f20" stroke-width="0.9"/>
<line x1="403.6" y1="191.78" x2="406.5" y2="191.78" stroke="#231f20" stroke-width="0.9"/>
<line x1="403.6" y1="177.36" x2="406.5" y2="177.36" stroke="#231f20" stroke-width="0.9"/>
<line x1="403.6" y1="162.94" x2="406.5" y2="162.94" stroke="#231f20" stroke-width="0.9"/>
<line x1="403.6" y1="148.52" x2="406.5" y2="148.52" stroke="#231f20" stroke-width="0.9"/>
<line x1="403.6" y1="134.1" x2="406.5" y2="134.1" stroke="#231f20" stroke-width="0.9"/>
<line x1="406.5" y1="131.1" x2="406.5" y2="206.7" stroke="#231f20" stroke-width="1.1"/>
<line x1="406" y1="206.2" x2="453.3" y2="206.2" stroke="#231f20" stroke-width="1.1"/>
<line x1="429.5" y1="206.2" x2="429.5" y2="209.2" stroke="#231f20" stroke-width="0.9"/>
<rect x="408.5" y="192.5" width="5" height="13.7" fill="#b4d398"/>
<rect x="415.5" y="162.94" width="5" height="43.26" fill="#8e97bb"/>
<rect x="422.5" y="164.02" width="5" height="42.18" fill="#d08e81"/>
<rect x="431" y="196.47" width="5" height="9.73" fill="#b4d398"/>
<rect x="438" y="162.94" width="5" height="43.26" fill="#8e97bb"/>
<rect x="445" y="162.94" width="5" height="43.26" fill="#d08e81"/>
<line x1="411" y1="187.45" x2="411" y2="203.32" stroke="#6cb24a" stroke-width="0.8"/>
<line x1="409.8" y1="187.45" x2="412.2" y2="187.45" stroke="#6cb24a" stroke-width="0.8"/>
<line x1="409.8" y1="203.32" x2="412.2" y2="203.32" stroke="#6cb24a" stroke-width="0.8"/>
<circle cx="410" cy="187.45" r="1.6" fill="#fff" stroke="#6cb24a" stroke-width="0.8"/>
<circle cx="412" cy="189.62" r="1.6" fill="#fff" stroke="#6cb24a" stroke-width="0.8"/>
<circle cx="409.8" cy="192.5" r="1.6" fill="#fff" stroke="#6cb24a" stroke-width="0.8"/>
<circle cx="412.2" cy="193.94" r="1.6" fill="#fff" stroke="#6cb24a" stroke-width="0.8"/>
<circle cx="411" cy="196.83" r="1.6" fill="#fff" stroke="#6cb24a" stroke-width="0.8"/>
<circle cx="409.8" cy="198.99" r="1.6" fill="#fff" stroke="#6cb24a" stroke-width="0.8"/>
<circle cx="412.2" cy="200.43" r="1.6" fill="#fff" stroke="#6cb24a" stroke-width="0.8"/>
<circle cx="411" cy="203.32" r="1.6" fill="#fff" stroke="#6cb24a" stroke-width="0.8"/>
<line x1="418" y1="158.61" x2="418" y2="170.87" stroke="#33579e" stroke-width="0.8"/>
<line x1="416.8" y1="158.61" x2="419.2" y2="158.61" stroke="#33579e" stroke-width="0.8"/>
<line x1="416.8" y1="170.87" x2="419.2" y2="170.87" stroke="#33579e" stroke-width="0.8"/>
<circle cx="417.5" cy="158.61" r="1.6" fill="#fff" stroke="#33579e" stroke-width="0.8"/>
<circle cx="419.5" cy="158.97" r="1.6" fill="#fff" stroke="#33579e" stroke-width="0.8"/>
<circle cx="416.7" cy="161.5" r="1.6" fill="#fff" stroke="#33579e" stroke-width="0.8"/>
<circle cx="419.3" cy="162.94" r="1.6" fill="#fff" stroke="#33579e" stroke-width="0.8"/>
<circle cx="418.8" cy="167.99" r="1.6" fill="#fff" stroke="#33579e" stroke-width="0.8"/>
<circle cx="417.2" cy="170.87" r="1.6" fill="#fff" stroke="#33579e" stroke-width="0.8"/>
<line x1="425" y1="161.5" x2="425" y2="164.02" stroke="#c8203e" stroke-width="0.8"/>
<line x1="423.8" y1="161.5" x2="426.2" y2="161.5" stroke="#c8203e" stroke-width="0.8"/>
<line x1="423.8" y1="164.02" x2="426.2" y2="164.02" stroke="#c8203e" stroke-width="0.8"/>
<circle cx="423.8" cy="161.5" r="1.6" fill="#fff" stroke="#c8203e" stroke-width="0.8"/>
<circle cx="426.2" cy="161.5" r="1.6" fill="#fff" stroke="#c8203e" stroke-width="0.8"/>
<circle cx="423.8" cy="164.02" r="1.6" fill="#fff" stroke="#c8203e" stroke-width="0.8"/>
<circle cx="426.2" cy="164.02" r="1.6" fill="#fff" stroke="#c8203e" stroke-width="0.8"/>
<line x1="433.5" y1="191.06" x2="433.5" y2="202.59" stroke="#6cb24a" stroke-width="0.8"/>
<line x1="432.3" y1="191.06" x2="434.7" y2="191.06" stroke="#6cb24a" stroke-width="0.8"/>
<line x1="432.3" y1="202.59" x2="434.7" y2="202.59" stroke="#6cb24a" stroke-width="0.8"/>
<circle cx="433.5" cy="191.06" r="1.6" fill="#fff" stroke="#6cb24a" stroke-width="0.8"/>
<circle cx="434" cy="193.22" r="1.6" fill="#fff" stroke="#6cb24a" stroke-width="0.8"/>
<circle cx="433" cy="195.38" r="1.6" fill="#fff" stroke="#6cb24a" stroke-width="0.8"/>
<circle cx="434.5" cy="198.99" r="1.6" fill="#fff" stroke="#6cb24a" stroke-width="0.8"/>
<circle cx="432.5" cy="200.43" r="1.6" fill="#fff" stroke="#6cb24a" stroke-width="0.8"/>
<circle cx="434" cy="202.59" r="1.6" fill="#fff" stroke="#6cb24a" stroke-width="0.8"/>
<line x1="440.5" y1="160.06" x2="440.5" y2="163.3" stroke="#33579e" stroke-width="0.8"/>
<line x1="439.3" y1="160.06" x2="441.7" y2="160.06" stroke="#33579e" stroke-width="0.8"/>
<line x1="439.3" y1="163.3" x2="441.7" y2="163.3" stroke="#33579e" stroke-width="0.8"/>
<circle cx="439.3" cy="161.14" r="1.6" fill="#fff" stroke="#33579e" stroke-width="0.8"/>
<circle cx="441.7" cy="160.06" r="1.6" fill="#fff" stroke="#33579e" stroke-width="0.8"/>
<circle cx="439.3" cy="163.3" r="1.6" fill="#fff" stroke="#33579e" stroke-width="0.8"/>
<circle cx="441.7" cy="163.3" r="1.6" fill="#fff" stroke="#33579e" stroke-width="0.8"/>
<line x1="447.5" y1="160.78" x2="447.5" y2="163.66" stroke="#c8203e" stroke-width="0.8"/>
<line x1="446.3" y1="160.78" x2="448.7" y2="160.78" stroke="#c8203e" stroke-width="0.8"/>
<line x1="446.3" y1="163.66" x2="448.7" y2="163.66" stroke="#c8203e" stroke-width="0.8"/>
<circle cx="446.3" cy="160.78" r="1.6" fill="#fff" stroke="#c8203e" stroke-width="0.8"/>
<circle cx="448.7" cy="160.78" r="1.6" fill="#fff" stroke="#c8203e" stroke-width="0.8"/>
<circle cx="446.3" cy="163.66" r="1.6" fill="#fff" stroke="#c8203e" stroke-width="0.8"/>
<circle cx="448.7" cy="163.66" r="1.6" fill="#fff" stroke="#c8203e" stroke-width="0.8"/>
<text x="430.8" y="126.4" font-size="7.9" text-anchor="middle">Nalm6</text>
<text x="420.6" y="216.3" font-size="7.9" text-anchor="end" textLength="24.5" lengthAdjust="spacingAndGlyphs" transform="rotate(-45 420.6 216.3)">no Epo</text>
<text x="442.9" y="216.3" font-size="7.9" text-anchor="end" textLength="13.5" lengthAdjust="spacingAndGlyphs" transform="rotate(-45 442.9 216.3)">Epo</text>
<text x="248.2" y="168.8" font-size="9.8" text-anchor="middle" textLength="44.5" lengthAdjust="spacingAndGlyphs" transform="rotate(-90 248.2 168.8)">% cytotoxicity</text>
<text x="266.6" y="209.15" font-size="8.2" text-anchor="end" textLength="4.15" lengthAdjust="spacingAndGlyphs">0</text>
<text x="266.6" y="194.73" font-size="8.2" text-anchor="end" textLength="8.3" lengthAdjust="spacingAndGlyphs">20</text>
<text x="266.6" y="180.31" font-size="8.2" text-anchor="end" textLength="8.3" lengthAdjust="spacingAndGlyphs">40</text>
<text x="266.6" y="165.89" font-size="8.2" text-anchor="end" textLength="8.3" lengthAdjust="spacingAndGlyphs">60</text>
<text x="266.6" y="151.47" font-size="8.2" text-anchor="end" textLength="8.3" lengthAdjust="spacingAndGlyphs">80</text>
<text x="266.6" y="137.05" font-size="8.2" text-anchor="end" textLength="12.45" lengthAdjust="spacingAndGlyphs">100</text>
<rect x="462.8" y="155.1" width="4.8" height="4.8" fill="#b4d398"/>
<text x="470.9" y="160.3" font-size="7.9" textLength="30.2" lengthAdjust="spacingAndGlyphs">GFP only</text>
<rect x="462.8" y="166.35" width="4.8" height="4.8" fill="#8e97bb"/>
<text x="470.9" y="171.55" font-size="7.9" textLength="14.6" lengthAdjust="spacingAndGlyphs">CAR</text>
<rect x="462.8" y="177.6" width="4.8" height="4.8" fill="#d08e81"/>
<text x="470.9" y="182.8" font-size="7.9" textLength="42.1" lengthAdjust="spacingAndGlyphs">EpoRm-CAR</text>
<line x1="272.5" y1="277" x2="272.5" y2="352.6" stroke="#231f20" stroke-width="1.1"/>
<line x1="271.1" y1="352.1" x2="321.3" y2="352.1" stroke="#231f20" stroke-width="1.1"/>
<line x1="269.4" y1="352.1" x2="272.5" y2="352.1" stroke="#231f20" stroke-width="0.9"/>
<text x="266.3" y="355" font-size="8" text-anchor="end" textLength="4.15" lengthAdjust="spacingAndGlyphs">0</text>
<line x1="269.4" y1="334" x2="272.5" y2="334" stroke="#231f20" stroke-width="0.9"/>
<text x="266.3" y="336.9" font-size="8" text-anchor="end" textLength="4.15" lengthAdjust="spacingAndGlyphs">5</text>
<line x1="269.4" y1="315.9" x2="272.5" y2="315.9" stroke="#231f20" stroke-width="0.9"/>
<text x="266.3" y="318.8" font-size="8" text-anchor="end" textLength="8.3" lengthAdjust="spacingAndGlyphs">10</text>
<line x1="269.4" y1="297.8" x2="272.5" y2="297.8" stroke="#231f20" stroke-width="0.9"/>
<text x="266.3" y="300.7" font-size="8" text-anchor="end" textLength="8.3" lengthAdjust="spacingAndGlyphs">15</text>
<line x1="269.4" y1="279.7" x2="272.5" y2="279.7" stroke="#231f20" stroke-width="0.9"/>
<text x="266.3" y="282.6" font-size="8" text-anchor="end" textLength="8.3" lengthAdjust="spacingAndGlyphs">20</text>
<line x1="272.5" y1="352.1" x2="272.5" y2="355.1" stroke="#231f20" stroke-width="0.9"/>
<text x="272.5" y="364.6" font-size="7.4" text-anchor="middle" textLength="4" lengthAdjust="spacingAndGlyphs">0</text>
<line x1="283.94" y1="352.1" x2="283.94" y2="355.1" stroke="#231f20" stroke-width="0.9"/>
<text x="283.94" y="364.6" font-size="7.4" text-anchor="middle" textLength="8" lengthAdjust="spacingAndGlyphs">20</text>
<line x1="295.38" y1="352.1" x2="295.38" y2="355.1" stroke="#231f20" stroke-width="0.9"/>
<text x="295.38" y="364.6" font-size="7.4" text-anchor="middle" textLength="8" lengthAdjust="spacingAndGlyphs">40</text>
<line x1="306.82" y1="352.1" x2="306.82" y2="355.1" stroke="#231f20" stroke-width="0.9"/>
<text x="306.82" y="364.6" font-size="7.4" text-anchor="middle" textLength="8" lengthAdjust="spacingAndGlyphs">60</text>
<line x1="318.26" y1="352.1" x2="318.26" y2="355.1" stroke="#231f20" stroke-width="0.9"/>
<text x="318.26" y="364.6" font-size="7.4" text-anchor="middle" textLength="8" lengthAdjust="spacingAndGlyphs">80</text>
<text x="297.4" y="283" font-size="7.7" text-anchor="middle" textLength="9.7" lengthAdjust="spacingAndGlyphs">1:2</text>
<polyline points="272.5,315.9 275.07,313.91 277.65,311.92 280.22,309.99 282.8,308.06 285.37,306.13 287.94,304.2 290.52,302.26 293.09,300.33 295.67,298.52 298.24,296.71 300.81,299.97 303.39,297.98 305.96,295.99 308.54,294.18 311.11,292.37 313.68,290.56" fill="none" stroke="#5aaa32" stroke-width="0.85"/>
<circle cx="272.5" cy="315.9" r="1.1" fill="#5aaa32"/>
<line x1="275.07" y1="313.91" x2="275.07" y2="313.91" stroke="#5aaa32" stroke-width="0.55"/>
<line x1="274.27" y1="313.91" x2="275.87" y2="313.91" stroke="#5aaa32" stroke-width="0.4"/>
<line x1="274.27" y1="313.91" x2="275.87" y2="313.91" stroke="#5aaa32" stroke-width="0.4"/>
<circle cx="275.07" cy="313.91" r="1.1" fill="#5aaa32"/>
<line x1="277.65" y1="311.92" x2="277.65" y2="311.92" stroke="#5aaa32" stroke-width="0.55"/>
<line x1="276.85" y1="311.92" x2="278.45" y2="311.92" stroke="#5aaa32" stroke-width="0.4"/>
<line x1="276.85" y1="311.92" x2="278.45" y2="311.92" stroke="#5aaa32" stroke-width="0.4"/>
<circle cx="277.65" cy="311.92" r="1.1" fill="#5aaa32"/>
<line x1="280.22" y1="309.99" x2="280.22" y2="309.99" stroke="#5aaa32" stroke-width="0.55"/>
<line x1="279.42" y1="309.99" x2="281.02" y2="309.99" stroke="#5aaa32" stroke-width="0.4"/>
<line x1="279.42" y1="309.99" x2="281.02" y2="309.99" stroke="#5aaa32" stroke-width="0.4"/>
<circle cx="280.22" cy="309.99" r="1.1" fill="#5aaa32"/>
<line x1="282.8" y1="308.06" x2="282.8" y2="308.06" stroke="#5aaa32" stroke-width="0.55"/>
<line x1="282" y1="308.06" x2="283.6" y2="308.06" stroke="#5aaa32" stroke-width="0.4"/>
<line x1="282" y1="308.06" x2="283.6" y2="308.06" stroke="#5aaa32" stroke-width="0.4"/>
<circle cx="282.8" cy="308.06" r="1.1" fill="#5aaa32"/>
<line x1="285.37" y1="306.13" x2="285.37" y2="306.13" stroke="#5aaa32" stroke-width="0.55"/>
<line x1="284.57" y1="306.13" x2="286.17" y2="306.13" stroke="#5aaa32" stroke-width="0.4"/>
<line x1="284.57" y1="306.13" x2="286.17" y2="306.13" stroke="#5aaa32" stroke-width="0.4"/>
<circle cx="285.37" cy="306.13" r="1.1" fill="#5aaa32"/>
<line x1="287.94" y1="304.2" x2="287.94" y2="304.2" stroke="#5aaa32" stroke-width="0.55"/>
<line x1="287.14" y1="304.2" x2="288.74" y2="304.2" stroke="#5aaa32" stroke-width="0.4"/>
<line x1="287.14" y1="304.2" x2="288.74" y2="304.2" stroke="#5aaa32" stroke-width="0.4"/>
<circle cx="287.94" cy="304.2" r="1.1" fill="#5aaa32"/>
<line x1="290.52" y1="302.26" x2="290.52" y2="302.26" stroke="#5aaa32" stroke-width="0.55"/>
<line x1="289.72" y1="302.26" x2="291.32" y2="302.26" stroke="#5aaa32" stroke-width="0.4"/>
<line x1="289.72" y1="302.26" x2="291.32" y2="302.26" stroke="#5aaa32" stroke-width="0.4"/>
<circle cx="290.52" cy="302.26" r="1.1" fill="#5aaa32"/>
<line x1="293.09" y1="300.33" x2="293.09" y2="300.33" stroke="#5aaa32" stroke-width="0.55"/>
<line x1="292.29" y1="300.33" x2="293.89" y2="300.33" stroke="#5aaa32" stroke-width="0.4"/>
<line x1="292.29" y1="300.33" x2="293.89" y2="300.33" stroke="#5aaa32" stroke-width="0.4"/>
<circle cx="293.09" cy="300.33" r="1.1" fill="#5aaa32"/>
<line x1="295.67" y1="298.52" x2="295.67" y2="298.52" stroke="#5aaa32" stroke-width="0.55"/>
<line x1="294.87" y1="298.52" x2="296.47" y2="298.52" stroke="#5aaa32" stroke-width="0.4"/>
<line x1="294.87" y1="298.52" x2="296.47" y2="298.52" stroke="#5aaa32" stroke-width="0.4"/>
<circle cx="295.67" cy="298.52" r="1.1" fill="#5aaa32"/>
<line x1="298.24" y1="296.71" x2="298.24" y2="296.71" stroke="#5aaa32" stroke-width="0.55"/>
<line x1="297.44" y1="296.71" x2="299.04" y2="296.71" stroke="#5aaa32" stroke-width="0.4"/>
<line x1="297.44" y1="296.71" x2="299.04" y2="296.71" stroke="#5aaa32" stroke-width="0.4"/>
<circle cx="298.24" cy="296.71" r="1.1" fill="#5aaa32"/>
<line x1="300.81" y1="301.78" x2="300.81" y2="298.16" stroke="#5aaa32" stroke-width="0.55"/>
<line x1="300.01" y1="301.78" x2="301.61" y2="301.78" stroke="#5aaa32" stroke-width="0.4"/>
<line x1="300.01" y1="298.16" x2="301.61" y2="298.16" stroke="#5aaa32" stroke-width="0.4"/>
<circle cx="300.81" cy="299.97" r="1.1" fill="#5aaa32"/>
<line x1="303.39" y1="299.79" x2="303.39" y2="296.17" stroke="#5aaa32" stroke-width="0.55"/>
<line x1="302.59" y1="299.79" x2="304.19" y2="299.79" stroke="#5aaa32" stroke-width="0.4"/>
<line x1="302.59" y1="296.17" x2="304.19" y2="296.17" stroke="#5aaa32" stroke-width="0.4"/>
<circle cx="303.39" cy="297.98" r="1.1" fill="#5aaa32"/>
<line x1="305.96" y1="297.8" x2="305.96" y2="294.18" stroke="#5aaa32" stroke-width="0.55"/>
<line x1="305.16" y1="297.8" x2="306.76" y2="297.8" stroke="#5aaa32" stroke-width="0.4"/>
<line x1="305.16" y1="294.18" x2="306.76" y2="294.18" stroke="#5aaa32" stroke-width="0.4"/>
<circle cx="305.96" cy="295.99" r="1.1" fill="#5aaa32"/>
<line x1="308.54" y1="295.99" x2="308.54" y2="292.37" stroke="#5aaa32" stroke-width="0.55"/>
<line x1="307.74" y1="295.99" x2="309.34" y2="295.99" stroke="#5aaa32" stroke-width="0.4"/>
<line x1="307.74" y1="292.37" x2="309.34" y2="292.37" stroke="#5aaa32" stroke-width="0.4"/>
<circle cx="308.54" cy="294.18" r="1.1" fill="#5aaa32"/>
<line x1="311.11" y1="294.18" x2="311.11" y2="290.56" stroke="#5aaa32" stroke-width="0.55"/>
<line x1="310.31" y1="294.18" x2="311.91" y2="294.18" stroke="#5aaa32" stroke-width="0.4"/>
<line x1="310.31" y1="290.56" x2="311.91" y2="290.56" stroke="#5aaa32" stroke-width="0.4"/>
<circle cx="311.11" cy="292.37" r="1.1" fill="#5aaa32"/>
<line x1="313.68" y1="292.37" x2="313.68" y2="288.75" stroke="#5aaa32" stroke-width="0.55"/>
<line x1="312.88" y1="292.37" x2="314.48" y2="292.37" stroke="#5aaa32" stroke-width="0.4"/>
<line x1="312.88" y1="288.75" x2="314.48" y2="288.75" stroke="#5aaa32" stroke-width="0.4"/>
<circle cx="313.68" cy="290.56" r="1.1" fill="#5aaa32"/>
<polyline points="272.5,315.9 275.07,322.28 277.65,330.61 280.22,339.2 282.8,343.05 285.37,345.57 287.94,346.6 290.52,347.64 293.09,348.03 295.67,348.35 298.24,348.66 300.81,348.75 303.39,348.84 305.96,348.93 308.54,349.02 311.11,349.11 313.68,349.2" fill="none" stroke="#b8102e" stroke-width="0.85"/>
<circle cx="272.5" cy="315.9" r="1.1" fill="#b8102e"/>
<circle cx="275.07" cy="322.28" r="1.1" fill="#b8102e"/>
<circle cx="277.65" cy="330.61" r="1.1" fill="#b8102e"/>
<circle cx="280.22" cy="339.2" r="1.1" fill="#b8102e"/>
<circle cx="282.8" cy="343.05" r="1.1" fill="#b8102e"/>
<circle cx="285.37" cy="345.57" r="1.1" fill="#b8102e"/>
<circle cx="287.94" cy="346.6" r="1.1" fill="#b8102e"/>
<circle cx="290.52" cy="347.64" r="1.1" fill="#b8102e"/>
<circle cx="293.09" cy="348.03" r="1.1" fill="#b8102e"/>
<circle cx="295.67" cy="348.35" r="1.1" fill="#b8102e"/>
<circle cx="298.24" cy="348.66" r="1.1" fill="#b8102e"/>
<circle cx="300.81" cy="348.75" r="1.1" fill="#b8102e"/>
<circle cx="303.39" cy="348.84" r="1.1" fill="#b8102e"/>
<circle cx="305.96" cy="348.93" r="1.1" fill="#b8102e"/>
<circle cx="308.54" cy="349.02" r="1.1" fill="#b8102e"/>
<circle cx="311.11" cy="349.11" r="1.1" fill="#b8102e"/>
<circle cx="313.68" cy="349.2" r="1.1" fill="#b8102e"/>
<polyline points="272.5,315.9 275.07,320.7 277.65,327.68 280.22,335.97 282.8,340.41 285.37,343.47 287.94,344.73 290.52,345.99 293.09,346.68 295.67,347.31 298.24,347.94 300.81,348.12 303.39,348.3 305.96,348.48 308.54,348.66 311.11,348.84 313.68,349.02" fill="none" stroke="#1f3f8f" stroke-width="0.85"/>
<circle cx="272.5" cy="315.9" r="1.1" fill="#1f3f8f"/>
<circle cx="275.07" cy="320.7" r="1.1" fill="#1f3f8f"/>
<circle cx="277.65" cy="327.68" r="1.1" fill="#1f3f8f"/>
<circle cx="280.22" cy="335.97" r="1.1" fill="#1f3f8f"/>
<circle cx="282.8" cy="340.41" r="1.1" fill="#1f3f8f"/>
<circle cx="285.37" cy="343.47" r="1.1" fill="#1f3f8f"/>
<circle cx="287.94" cy="344.73" r="1.1" fill="#1f3f8f"/>
<circle cx="290.52" cy="345.99" r="1.1" fill="#1f3f8f"/>
<circle cx="293.09" cy="346.68" r="1.1" fill="#1f3f8f"/>
<circle cx="295.67" cy="347.31" r="1.1" fill="#1f3f8f"/>
<circle cx="298.24" cy="347.94" r="1.1" fill="#1f3f8f"/>
<circle cx="300.81" cy="348.12" r="1.1" fill="#1f3f8f"/>
<circle cx="303.39" cy="348.3" r="1.1" fill="#1f3f8f"/>
<circle cx="305.96" cy="348.48" r="1.1" fill="#1f3f8f"/>
<circle cx="308.54" cy="348.66" r="1.1" fill="#1f3f8f"/>
<circle cx="311.11" cy="348.84" r="1.1" fill="#1f3f8f"/>
<circle cx="313.68" cy="349.02" r="1.1" fill="#1f3f8f"/>
<line x1="335.4" y1="277" x2="335.4" y2="352.6" stroke="#231f20" stroke-width="1.1"/>
<line x1="334" y1="352.1" x2="384.2" y2="352.1" stroke="#231f20" stroke-width="1.1"/>
<line x1="332.3" y1="352.1" x2="335.4" y2="352.1" stroke="#231f20" stroke-width="0.9"/>
<line x1="332.3" y1="334" x2="335.4" y2="334" stroke="#231f20" stroke-width="0.9"/>
<line x1="332.3" y1="315.9" x2="335.4" y2="315.9" stroke="#231f20" stroke-width="0.9"/>
<line x1="332.3" y1="297.8" x2="335.4" y2="297.8" stroke="#231f20" stroke-width="0.9"/>
<line x1="332.3" y1="279.7" x2="335.4" y2="279.7" stroke="#231f20" stroke-width="0.9"/>
<line x1="335.4" y1="352.1" x2="335.4" y2="355.1" stroke="#231f20" stroke-width="0.9"/>
<text x="335.4" y="364.6" font-size="7.4" text-anchor="middle" textLength="4" lengthAdjust="spacingAndGlyphs">0</text>
<line x1="346.84" y1="352.1" x2="346.84" y2="355.1" stroke="#231f20" stroke-width="0.9"/>
<text x="346.84" y="364.6" font-size="7.4" text-anchor="middle" textLength="8" lengthAdjust="spacingAndGlyphs">20</text>
<line x1="358.28" y1="352.1" x2="358.28" y2="355.1" stroke="#231f20" stroke-width="0.9"/>
<text x="358.28" y="364.6" font-size="7.4" text-anchor="middle" textLength="8" lengthAdjust="spacingAndGlyphs">40</text>
<line x1="369.72" y1="352.1" x2="369.72" y2="355.1" stroke="#231f20" stroke-width="0.9"/>
<text x="369.72" y="364.6" font-size="7.4" text-anchor="middle" textLength="8" lengthAdjust="spacingAndGlyphs">60</text>
<line x1="381.16" y1="352.1" x2="381.16" y2="355.1" stroke="#231f20" stroke-width="0.9"/>
<text x="381.16" y="364.6" font-size="7.4" text-anchor="middle" textLength="8" lengthAdjust="spacingAndGlyphs">80</text>
<text x="360.3" y="283" font-size="7.7" text-anchor="middle" textLength="9.7" lengthAdjust="spacingAndGlyphs">1:4</text>
<polyline points="335.4,315.9 337.97,313.91 340.55,311.92 343.12,309.93 345.7,307.94 348.27,305.94 350.84,303.95 353.42,302.26 355.99,300.58 358.57,298.89 361.14,295.63 363.71,298.16 366.29,296.83 368.86,295.51 371.44,294.18 374.01,291.28 376.58,288.39" fill="none" stroke="#5aaa32" stroke-width="0.85"/>
<circle cx="335.4" cy="315.9" r="1.1" fill="#5aaa32"/>
<circle cx="337.97" cy="313.91" r="1.1" fill="#5aaa32"/>
<circle cx="340.55" cy="311.92" r="1.1" fill="#5aaa32"/>
<circle cx="343.12" cy="309.93" r="1.1" fill="#5aaa32"/>
<circle cx="345.7" cy="307.94" r="1.1" fill="#5aaa32"/>
<circle cx="348.27" cy="305.94" r="1.1" fill="#5aaa32"/>
<circle cx="350.84" cy="303.95" r="1.1" fill="#5aaa32"/>
<circle cx="353.42" cy="302.26" r="1.1" fill="#5aaa32"/>
<circle cx="355.99" cy="300.58" r="1.1" fill="#5aaa32"/>
<circle cx="358.57" cy="298.89" r="1.1" fill="#5aaa32"/>
<circle cx="361.14" cy="295.63" r="1.1" fill="#5aaa32"/>
<circle cx="363.71" cy="298.16" r="1.1" fill="#5aaa32"/>
<circle cx="366.29" cy="296.83" r="1.1" fill="#5aaa32"/>
<circle cx="368.86" cy="295.51" r="1.1" fill="#5aaa32"/>
<circle cx="371.44" cy="294.18" r="1.1" fill="#5aaa32"/>
<circle cx="374.01" cy="291.28" r="1.1" fill="#5aaa32"/>
<circle cx="376.58" cy="288.39" r="1.1" fill="#5aaa32"/>
<polyline points="335.4,315.9 337.97,323.07 340.55,327.81 343.12,332.26 345.7,335.83 348.27,338.33 350.84,340.83 353.42,343.15 355.99,344.06 358.57,344.96 361.14,345.87 363.71,346.71 366.29,347.06 368.86,347.42 371.44,347.77 374.01,348.13 376.58,348.48" fill="none" stroke="#b8102e" stroke-width="0.85"/>
<circle cx="335.4" cy="315.9" r="1.1" fill="#b8102e"/>
<circle cx="337.97" cy="323.07" r="1.1" fill="#b8102e"/>
<circle cx="340.55" cy="327.81" r="1.1" fill="#b8102e"/>
<circle cx="343.12" cy="332.26" r="1.1" fill="#b8102e"/>
<circle cx="345.7" cy="335.83" r="1.1" fill="#b8102e"/>
<circle cx="348.27" cy="338.33" r="1.1" fill="#b8102e"/>
<circle cx="350.84" cy="340.83" r="1.1" fill="#b8102e"/>
<circle cx="353.42" cy="343.15" r="1.1" fill="#b8102e"/>
<circle cx="355.99" cy="344.06" r="1.1" fill="#b8102e"/>
<circle cx="358.57" cy="344.96" r="1.1" fill="#b8102e"/>
<circle cx="361.14" cy="345.87" r="1.1" fill="#b8102e"/>
<circle cx="363.71" cy="346.71" r="1.1" fill="#b8102e"/>
<circle cx="366.29" cy="347.06" r="1.1" fill="#b8102e"/>
<circle cx="368.86" cy="347.42" r="1.1" fill="#b8102e"/>
<circle cx="371.44" cy="347.77" r="1.1" fill="#b8102e"/>
<circle cx="374.01" cy="348.13" r="1.1" fill="#b8102e"/>
<circle cx="376.58" cy="348.48" r="1.1" fill="#b8102e"/>
<polyline points="335.4,315.9 337.97,321.44 340.55,325.21 343.12,328.77 345.7,331.71 348.27,333.88 350.84,336.05 353.42,338.09 355.99,339.09 358.57,340.08 361.14,341.08 363.71,342.04 366.29,342.75 368.86,343.46 371.44,344.17 374.01,344.88 376.58,345.58" fill="none" stroke="#1f3f8f" stroke-width="0.85"/>
<circle cx="335.4" cy="315.9" r="1.1" fill="#1f3f8f"/>
<line x1="337.97" y1="323.61" x2="337.97" y2="319.27" stroke="#1f3f8f" stroke-width="0.55"/>
<line x1="337.17" y1="323.61" x2="338.77" y2="323.61" stroke="#1f3f8f" stroke-width="0.4"/>
<line x1="337.17" y1="319.27" x2="338.77" y2="319.27" stroke="#1f3f8f" stroke-width="0.4"/>
<circle cx="337.97" cy="321.44" r="1.1" fill="#1f3f8f"/>
<line x1="340.55" y1="327.39" x2="340.55" y2="323.04" stroke="#1f3f8f" stroke-width="0.55"/>
<line x1="339.75" y1="327.39" x2="341.35" y2="327.39" stroke="#1f3f8f" stroke-width="0.4"/>
<line x1="339.75" y1="323.04" x2="341.35" y2="323.04" stroke="#1f3f8f" stroke-width="0.4"/>
<circle cx="340.55" cy="325.21" r="1.1" fill="#1f3f8f"/>
<line x1="343.12" y1="330.94" x2="343.12" y2="326.6" stroke="#1f3f8f" stroke-width="0.55"/>
<line x1="342.32" y1="330.94" x2="343.92" y2="330.94" stroke="#1f3f8f" stroke-width="0.4"/>
<line x1="342.32" y1="326.6" x2="343.92" y2="326.6" stroke="#1f3f8f" stroke-width="0.4"/>
<circle cx="343.12" cy="328.77" r="1.1" fill="#1f3f8f"/>
<line x1="345.7" y1="333.88" x2="345.7" y2="329.54" stroke="#1f3f8f" stroke-width="0.55"/>
<line x1="344.9" y1="333.88" x2="346.5" y2="333.88" stroke="#1f3f8f" stroke-width="0.4"/>
<line x1="344.9" y1="329.54" x2="346.5" y2="329.54" stroke="#1f3f8f" stroke-width="0.4"/>
<circle cx="345.7" cy="331.71" r="1.1" fill="#1f3f8f"/>
<line x1="348.27" y1="336.05" x2="348.27" y2="331.71" stroke="#1f3f8f" stroke-width="0.55"/>
<line x1="347.47" y1="336.05" x2="349.07" y2="336.05" stroke="#1f3f8f" stroke-width="0.4"/>
<line x1="347.47" y1="331.71" x2="349.07" y2="331.71" stroke="#1f3f8f" stroke-width="0.4"/>
<circle cx="348.27" cy="333.88" r="1.1" fill="#1f3f8f"/>
<line x1="350.84" y1="338.22" x2="350.84" y2="333.88" stroke="#1f3f8f" stroke-width="0.55"/>
<line x1="350.04" y1="338.22" x2="351.64" y2="338.22" stroke="#1f3f8f" stroke-width="0.4"/>
<line x1="350.04" y1="333.88" x2="351.64" y2="333.88" stroke="#1f3f8f" stroke-width="0.4"/>
<circle cx="350.84" cy="336.05" r="1.1" fill="#1f3f8f"/>
<line x1="353.42" y1="340.26" x2="353.42" y2="335.92" stroke="#1f3f8f" stroke-width="0.55"/>
<line x1="352.62" y1="340.26" x2="354.22" y2="340.26" stroke="#1f3f8f" stroke-width="0.4"/>
<line x1="352.62" y1="335.92" x2="354.22" y2="335.92" stroke="#1f3f8f" stroke-width="0.4"/>
<circle cx="353.42" cy="338.09" r="1.1" fill="#1f3f8f"/>
<line x1="355.99" y1="341.26" x2="355.99" y2="336.92" stroke="#1f3f8f" stroke-width="0.55"/>
<line x1="355.19" y1="341.26" x2="356.79" y2="341.26" stroke="#1f3f8f" stroke-width="0.4"/>
<line x1="355.19" y1="336.92" x2="356.79" y2="336.92" stroke="#1f3f8f" stroke-width="0.4"/>
<circle cx="355.99" cy="339.09" r="1.1" fill="#1f3f8f"/>
<line x1="358.57" y1="342.26" x2="358.57" y2="337.91" stroke="#1f3f8f" stroke-width="0.55"/>
<line x1="357.77" y1="342.26" x2="359.37" y2="342.26" stroke="#1f3f8f" stroke-width="0.4"/>
<line x1="357.77" y1="337.91" x2="359.37" y2="337.91" stroke="#1f3f8f" stroke-width="0.4"/>
<circle cx="358.57" cy="340.08" r="1.1" fill="#1f3f8f"/>
<line x1="361.14" y1="343.25" x2="361.14" y2="338.91" stroke="#1f3f8f" stroke-width="0.55"/>
<line x1="360.34" y1="343.25" x2="361.94" y2="343.25" stroke="#1f3f8f" stroke-width="0.4"/>
<line x1="360.34" y1="338.91" x2="361.94" y2="338.91" stroke="#1f3f8f" stroke-width="0.4"/>
<circle cx="361.14" cy="341.08" r="1.1" fill="#1f3f8f"/>
<line x1="363.71" y1="344.21" x2="363.71" y2="339.87" stroke="#1f3f8f" stroke-width="0.55"/>
<line x1="362.91" y1="344.21" x2="364.51" y2="344.21" stroke="#1f3f8f" stroke-width="0.4"/>
<line x1="362.91" y1="339.87" x2="364.51" y2="339.87" stroke="#1f3f8f" stroke-width="0.4"/>
<circle cx="363.71" cy="342.04" r="1.1" fill="#1f3f8f"/>
<line x1="366.29" y1="344.92" x2="366.29" y2="340.58" stroke="#1f3f8f" stroke-width="0.55"/>
<line x1="365.49" y1="344.92" x2="367.09" y2="344.92" stroke="#1f3f8f" stroke-width="0.4"/>
<line x1="365.49" y1="340.58" x2="367.09" y2="340.58" stroke="#1f3f8f" stroke-width="0.4"/>
<circle cx="366.29" cy="342.75" r="1.1" fill="#1f3f8f"/>
<line x1="368.86" y1="345.63" x2="368.86" y2="341.29" stroke="#1f3f8f" stroke-width="0.55"/>
<line x1="368.06" y1="345.63" x2="369.66" y2="345.63" stroke="#1f3f8f" stroke-width="0.4"/>
<line x1="368.06" y1="341.29" x2="369.66" y2="341.29" stroke="#1f3f8f" stroke-width="0.4"/>
<circle cx="368.86" cy="343.46" r="1.1" fill="#1f3f8f"/>
<line x1="371.44" y1="346.34" x2="371.44" y2="342" stroke="#1f3f8f" stroke-width="0.55"/>
<line x1="370.64" y1="346.34" x2="372.24" y2="346.34" stroke="#1f3f8f" stroke-width="0.4"/>
<line x1="370.64" y1="342" x2="372.24" y2="342" stroke="#1f3f8f" stroke-width="0.4"/>
<circle cx="371.44" cy="344.17" r="1.1" fill="#1f3f8f"/>
<line x1="374.01" y1="347.05" x2="374.01" y2="342.7" stroke="#1f3f8f" stroke-width="0.55"/>
<line x1="373.21" y1="347.05" x2="374.81" y2="347.05" stroke="#1f3f8f" stroke-width="0.4"/>
<line x1="373.21" y1="342.7" x2="374.81" y2="342.7" stroke="#1f3f8f" stroke-width="0.4"/>
<circle cx="374.01" cy="344.88" r="1.1" fill="#1f3f8f"/>
<line x1="376.58" y1="347.76" x2="376.58" y2="343.41" stroke="#1f3f8f" stroke-width="0.55"/>
<line x1="375.78" y1="347.76" x2="377.38" y2="347.76" stroke="#1f3f8f" stroke-width="0.4"/>
<line x1="375.78" y1="343.41" x2="377.38" y2="343.41" stroke="#1f3f8f" stroke-width="0.4"/>
<circle cx="376.58" cy="345.58" r="1.1" fill="#1f3f8f"/>
<line x1="397.6" y1="277" x2="397.6" y2="352.6" stroke="#231f20" stroke-width="1.1"/>
<line x1="396.2" y1="352.1" x2="446.4" y2="352.1" stroke="#231f20" stroke-width="1.1"/>
<line x1="394.5" y1="352.1" x2="397.6" y2="352.1" stroke="#231f20" stroke-width="0.9"/>
<line x1="394.5" y1="334" x2="397.6" y2="334" stroke="#231f20" stroke-width="0.9"/>
<line x1="394.5" y1="315.9" x2="397.6" y2="315.9" stroke="#231f20" stroke-width="0.9"/>
<line x1="394.5" y1="297.8" x2="397.6" y2="297.8" stroke="#231f20" stroke-width="0.9"/>
<line x1="394.5" y1="279.7" x2="397.6" y2="279.7" stroke="#231f20" stroke-width="0.9"/>
<line x1="397.6" y1="352.1" x2="397.6" y2="355.1" stroke="#231f20" stroke-width="0.9"/>
<text x="397.6" y="364.6" font-size="7.4" text-anchor="middle" textLength="4" lengthAdjust="spacingAndGlyphs">0</text>
<line x1="409.04" y1="352.1" x2="409.04" y2="355.1" stroke="#231f20" stroke-width="0.9"/>
<text x="409.04" y="364.6" font-size="7.4" text-anchor="middle" textLength="8" lengthAdjust="spacingAndGlyphs">20</text>
<line x1="420.48" y1="352.1" x2="420.48" y2="355.1" stroke="#231f20" stroke-width="0.9"/>
<text x="420.48" y="364.6" font-size="7.4" text-anchor="middle" textLength="8" lengthAdjust="spacingAndGlyphs">40</text>
<line x1="431.92" y1="352.1" x2="431.92" y2="355.1" stroke="#231f20" stroke-width="0.9"/>
<text x="431.92" y="364.6" font-size="7.4" text-anchor="middle" textLength="8" lengthAdjust="spacingAndGlyphs">60</text>
<line x1="443.36" y1="352.1" x2="443.36" y2="355.1" stroke="#231f20" stroke-width="0.9"/>
<text x="443.36" y="364.6" font-size="7.4" text-anchor="middle" textLength="8" lengthAdjust="spacingAndGlyphs">80</text>
<text x="422.5" y="283" font-size="7.7" text-anchor="middle" textLength="9.7" lengthAdjust="spacingAndGlyphs">1:8</text>
<polyline points="397.6,315.9 400.17,313.91 402.75,311.92 405.32,309.87 407.9,307.82 410.47,305.76 413.04,303.88 415.62,302 418.19,300.12 420.77,298.23 423.34,296.35 425.91,299.61 428.49,298.7 431.06,297.8 433.64,296.35 436.21,294.9 438.78,293.46" fill="none" stroke="#5aaa32" stroke-width="0.85"/>
<circle cx="397.6" cy="315.9" r="1.1" fill="#5aaa32"/>
<circle cx="400.17" cy="313.91" r="1.1" fill="#5aaa32"/>
<circle cx="402.75" cy="311.92" r="1.1" fill="#5aaa32"/>
<circle cx="405.32" cy="309.87" r="1.1" fill="#5aaa32"/>
<circle cx="407.9" cy="307.82" r="1.1" fill="#5aaa32"/>
<circle cx="410.47" cy="305.76" r="1.1" fill="#5aaa32"/>
<circle cx="413.04" cy="303.88" r="1.1" fill="#5aaa32"/>
<circle cx="415.62" cy="302" r="1.1" fill="#5aaa32"/>
<circle cx="418.19" cy="300.12" r="1.1" fill="#5aaa32"/>
<circle cx="420.77" cy="298.23" r="1.1" fill="#5aaa32"/>
<circle cx="423.34" cy="296.35" r="1.1" fill="#5aaa32"/>
<circle cx="425.91" cy="299.61" r="1.1" fill="#5aaa32"/>
<circle cx="428.49" cy="298.7" r="1.1" fill="#5aaa32"/>
<circle cx="431.06" cy="297.8" r="1.1" fill="#5aaa32"/>
<circle cx="433.64" cy="296.35" r="1.1" fill="#5aaa32"/>
<circle cx="436.21" cy="294.9" r="1.1" fill="#5aaa32"/>
<circle cx="438.78" cy="293.46" r="1.1" fill="#5aaa32"/>
<polyline points="397.6,315.9 400.17,318.14 402.75,320.5 405.32,323.27 407.9,325.99 410.47,328.37 413.04,330.74 415.62,333.12 418.19,334.86 420.77,336.56 423.34,338.26 425.91,339.97 428.49,340.88 431.06,341.69 433.64,342.51 436.21,343.32 438.78,344.14" fill="none" stroke="#b8102e" stroke-width="0.85"/>
<circle cx="397.6" cy="315.9" r="1.1" fill="#b8102e"/>
<circle cx="400.17" cy="318.14" r="1.1" fill="#b8102e"/>
<circle cx="402.75" cy="320.5" r="1.1" fill="#b8102e"/>
<circle cx="405.32" cy="323.27" r="1.1" fill="#b8102e"/>
<circle cx="407.9" cy="325.99" r="1.1" fill="#b8102e"/>
<circle cx="410.47" cy="328.37" r="1.1" fill="#b8102e"/>
<circle cx="413.04" cy="330.74" r="1.1" fill="#b8102e"/>
<circle cx="415.62" cy="333.12" r="1.1" fill="#b8102e"/>
<circle cx="418.19" cy="334.86" r="1.1" fill="#b8102e"/>
<circle cx="420.77" cy="336.56" r="1.1" fill="#b8102e"/>
<circle cx="423.34" cy="338.26" r="1.1" fill="#b8102e"/>
<circle cx="425.91" cy="339.97" r="1.1" fill="#b8102e"/>
<circle cx="428.49" cy="340.88" r="1.1" fill="#b8102e"/>
<circle cx="431.06" cy="341.69" r="1.1" fill="#b8102e"/>
<circle cx="433.64" cy="342.51" r="1.1" fill="#b8102e"/>
<circle cx="436.21" cy="343.32" r="1.1" fill="#b8102e"/>
<circle cx="438.78" cy="344.14" r="1.1" fill="#b8102e"/>
<polyline points="397.6,315.9 400.17,317.2 402.75,318.51 405.32,319.81 407.9,321.11 410.47,322.37 413.04,323.59 415.62,324.81 418.19,326.04 420.77,327.24 423.34,328.3 425.91,329.36 428.49,330.42 431.06,331.48 433.64,332.55 436.21,333.64 438.78,334.72" fill="none" stroke="#1f3f8f" stroke-width="0.85"/>
<circle cx="397.6" cy="315.9" r="1.1" fill="#1f3f8f"/>
<circle cx="400.17" cy="317.2" r="1.1" fill="#1f3f8f"/>
<circle cx="402.75" cy="318.51" r="1.1" fill="#1f3f8f"/>
<circle cx="405.32" cy="319.81" r="1.1" fill="#1f3f8f"/>
<circle cx="407.9" cy="321.11" r="1.1" fill="#1f3f8f"/>
<circle cx="410.47" cy="322.37" r="1.1" fill="#1f3f8f"/>
<circle cx="413.04" cy="323.59" r="1.1" fill="#1f3f8f"/>
<circle cx="415.62" cy="324.81" r="1.1" fill="#1f3f8f"/>
<circle cx="418.19" cy="326.04" r="1.1" fill="#1f3f8f"/>
<circle cx="420.77" cy="327.24" r="1.1" fill="#1f3f8f"/>
<circle cx="423.34" cy="328.3" r="1.1" fill="#1f3f8f"/>
<circle cx="425.91" cy="329.36" r="1.1" fill="#1f3f8f"/>
<circle cx="428.49" cy="330.42" r="1.1" fill="#1f3f8f"/>
<circle cx="431.06" cy="331.48" r="1.1" fill="#1f3f8f"/>
<circle cx="433.64" cy="332.55" r="1.1" fill="#1f3f8f"/>
<circle cx="436.21" cy="333.64" r="1.1" fill="#1f3f8f"/>
<circle cx="438.78" cy="334.72" r="1.1" fill="#1f3f8f"/>
<line x1="378.9" y1="345" x2="378.9" y2="349.4" stroke="#231f20" stroke-width="0.9"/>
<text x="383.6" y="350.3" font-size="7" text-anchor="middle">*</text>
<line x1="441.9" y1="334.8" x2="441.9" y2="344.4" stroke="#231f20" stroke-width="0.9"/>
<text x="450.2" y="343.6" font-size="7" text-anchor="middle" textLength="9" lengthAdjust="spacingAndGlyphs">***</text>
<text x="249.4" y="314.1" font-size="7" text-anchor="middle" textLength="76.6" lengthAdjust="spacingAndGlyphs" transform="rotate(-90 249.4 314.1)">RCU x µm²/well (x 10⁶)</text>
<text x="359.7" y="379.2" font-size="9.9" text-anchor="middle" textLength="53.8" lengthAdjust="spacingAndGlyphs">Hours in culture</text>
<circle cx="457.4" cy="306.8" r="1.65" fill="#5aaa32"/>
<text x="462.4" y="309.5" font-size="7.6" textLength="30.6" lengthAdjust="spacingAndGlyphs">GFP only</text>
<circle cx="457.4" cy="314.35" r="1.65" fill="#1f3f8f"/>
<text x="462.4" y="317.05" font-size="7.6" textLength="14.6" lengthAdjust="spacingAndGlyphs">CAR</text>
<circle cx="457.4" cy="321.9" r="1.65" fill="#b8102e"/>
<text x="462.4" y="324.6" font-size="7.6" textLength="42.1" lengthAdjust="spacingAndGlyphs">EpoRm-CAR</text>
<rect x="0.5" y="0.5" width="519" height="387" fill="none" stroke="#000" stroke-width="1.3"/>
</svg>
</body></html>
